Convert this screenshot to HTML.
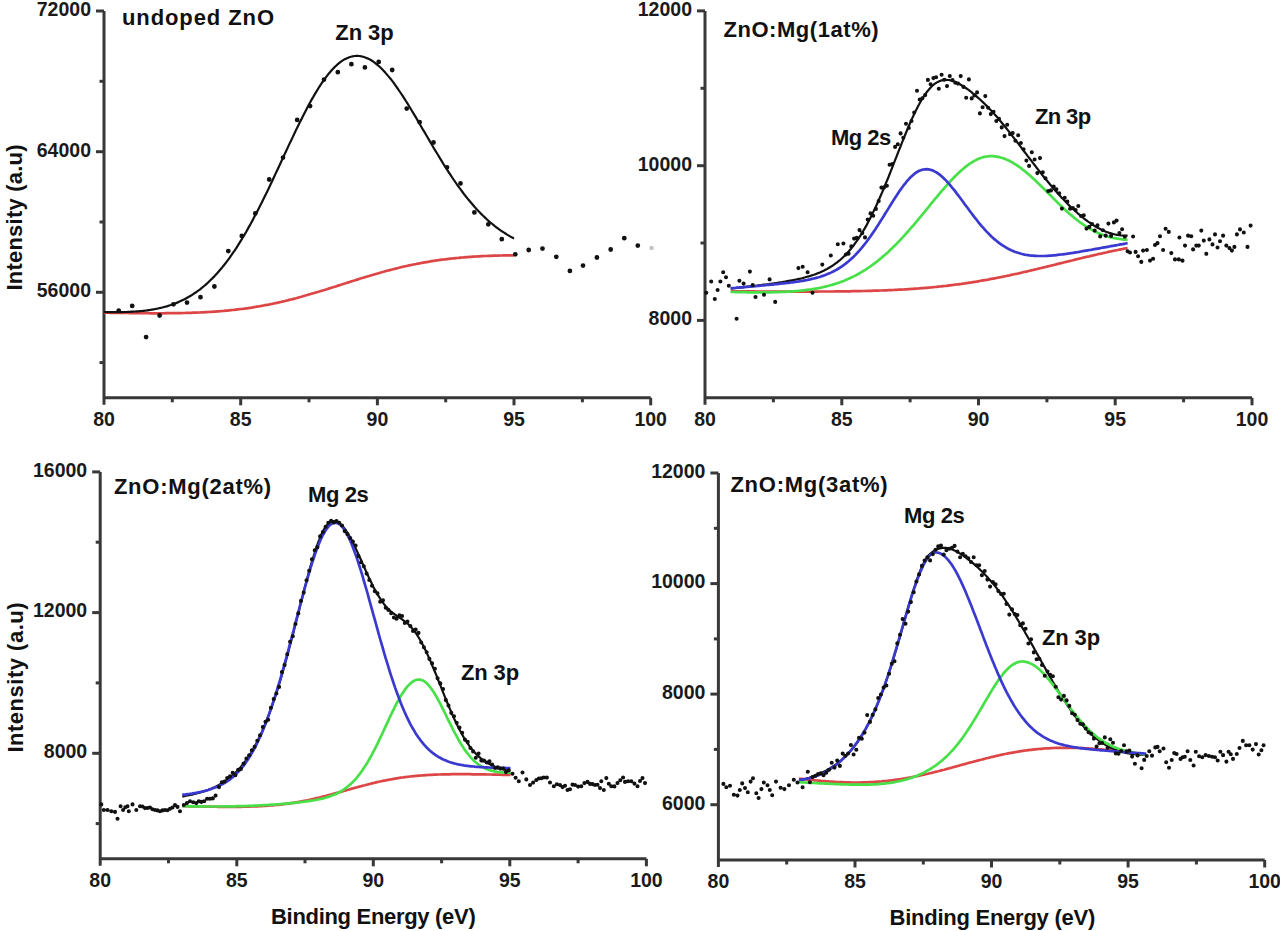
<!DOCTYPE html>
<html><head><meta charset="utf-8"><style>html,body{margin:0;padding:0;background:#fff}svg{display:block}</style></head>
<body><svg width="1280" height="931" viewBox="0 0 1280 931">
<rect width="1280" height="931" fill="#fff"/>
<path d="M104.0,11.0 V404.8 M102.7,397.8 H650.7" stroke="#383838" stroke-width="3.0" fill="none"/>
<path d="M96.0,292.3 H104.0" stroke="#383838" stroke-width="3.0"/>
<text x="91.0" y="297.1" font-family="Liberation Sans, sans-serif" font-weight="bold" font-size="19.5" text-anchor="end" fill="#1a1a1a">56000</text>
<path d="M96.0,151.7 H104.0" stroke="#383838" stroke-width="3.0"/>
<text x="91.0" y="156.5" font-family="Liberation Sans, sans-serif" font-weight="bold" font-size="19.5" text-anchor="end" fill="#1a1a1a">64000</text>
<path d="M96.0,11.0 H104.0" stroke="#383838" stroke-width="3.0"/>
<text x="91.0" y="15.8" font-family="Liberation Sans, sans-serif" font-weight="bold" font-size="19.5" text-anchor="end" fill="#1a1a1a">72000</text>
<path d="M99.5,362.6 H104.0" stroke="#383838" stroke-width="3.0"/>
<path d="M99.5,222.0 H104.0" stroke="#383838" stroke-width="3.0"/>
<path d="M99.5,81.3 H104.0" stroke="#383838" stroke-width="3.0"/>
<path d="M240.7,397.8 V405.3" stroke="#383838" stroke-width="3.0"/>
<path d="M377.4,397.8 V405.3" stroke="#383838" stroke-width="3.0"/>
<path d="M514.0,397.8 V405.3" stroke="#383838" stroke-width="3.0"/>
<path d="M650.7,397.8 V405.3" stroke="#383838" stroke-width="3.0"/>
<path d="M172.3,397.8 V402.3" stroke="#383838" stroke-width="3.0"/>
<path d="M309.0,397.8 V402.3" stroke="#383838" stroke-width="3.0"/>
<path d="M445.7,397.8 V402.3" stroke="#383838" stroke-width="3.0"/>
<path d="M582.4,397.8 V402.3" stroke="#383838" stroke-width="3.0"/>
<text x="104.0" y="425.8" font-family="Liberation Sans, sans-serif" font-weight="bold" font-size="19.5" text-anchor="middle" fill="#1a1a1a">80</text>
<text x="240.7" y="425.8" font-family="Liberation Sans, sans-serif" font-weight="bold" font-size="19.5" text-anchor="middle" fill="#1a1a1a">85</text>
<text x="377.4" y="425.8" font-family="Liberation Sans, sans-serif" font-weight="bold" font-size="19.5" text-anchor="middle" fill="#1a1a1a">90</text>
<text x="514.0" y="425.8" font-family="Liberation Sans, sans-serif" font-weight="bold" font-size="19.5" text-anchor="middle" fill="#1a1a1a">95</text>
<text x="650.7" y="425.8" font-family="Liberation Sans, sans-serif" font-weight="bold" font-size="19.5" text-anchor="middle" fill="#1a1a1a">100</text>
<polyline points="104.0,312.6 105.7,312.7 107.4,312.7 109.1,312.7 110.9,312.8 112.6,312.8 114.3,312.8 116.0,312.9 117.7,312.9 119.4,312.9 121.2,312.9 122.9,313.0 124.6,313.0 126.3,313.0 128.0,313.0 129.7,313.1 131.4,313.1 133.2,313.1 134.9,313.1 136.6,313.1 138.3,313.2 140.0,313.2 141.7,313.2 143.5,313.2 145.2,313.2 146.9,313.2 148.6,313.2 150.3,313.3 152.0,313.3 153.7,313.3 155.5,313.3 157.2,313.3 158.9,313.3 160.6,313.3 162.3,313.3 164.0,313.3 165.7,313.2 167.5,313.2 169.2,313.2 170.9,313.2 172.6,313.2 174.3,313.2 176.0,313.1 177.8,313.1 179.5,313.1 181.2,313.1 182.9,313.0 184.6,313.0 186.3,312.9 188.0,312.9 189.8,312.8 191.5,312.8 193.2,312.7 194.9,312.7 196.6,312.6 198.3,312.5 200.1,312.5 201.8,312.4 203.5,312.3 205.2,312.2 206.9,312.1 208.6,312.0 210.3,311.9 212.1,311.8 213.8,311.7 215.5,311.6 217.2,311.4 218.9,311.3 220.6,311.2 222.4,311.0 224.1,310.9 225.8,310.7 227.5,310.6 229.2,310.4 230.9,310.2 232.6,310.0 234.4,309.8 236.1,309.6 237.8,309.4 239.5,309.2 241.2,309.0 242.9,308.8 244.7,308.6 246.4,308.3 248.1,308.1 249.8,307.8 251.5,307.6 253.2,307.3 254.9,307.0 256.7,306.7 258.4,306.5 260.1,306.2 261.8,305.9 263.5,305.5 265.2,305.2 267.0,304.9 268.7,304.6 270.4,304.2 272.1,303.9 273.8,303.5 275.5,303.1 277.2,302.8 279.0,302.4 280.7,302.0 282.4,301.6 284.1,301.2 285.8,300.8 287.5,300.4 289.2,299.9 291.0,299.5 292.7,299.1 294.4,298.6 296.1,298.2 297.8,297.7 299.5,297.2 301.3,296.8 303.0,296.3 304.7,295.8 306.4,295.3 308.1,294.8 309.8,294.3 311.5,293.8 313.3,293.3 315.0,292.8 316.7,292.3 318.4,291.8 320.1,291.3 321.8,290.7 323.6,290.2 325.3,289.7 327.0,289.2 328.7,288.6 330.4,288.1 332.1,287.5 333.8,287.0 335.6,286.5 337.3,285.9 339.0,285.4 340.7,284.8 342.4,284.3 344.1,283.7 345.9,283.2 347.6,282.6 349.3,282.1 351.0,281.5 352.7,281.0 354.4,280.5 356.1,279.9 357.9,279.4 359.6,278.8 361.3,278.3 363.0,277.8 364.7,277.3 366.4,276.7 368.2,276.2 369.9,275.7 371.6,275.2 373.3,274.7 375.0,274.2 376.7,273.7 378.4,273.2 380.2,272.7 381.9,272.2 383.6,271.8 385.3,271.3 387.0,270.8 388.7,270.4 390.5,269.9 392.2,269.5 393.9,269.0 395.6,268.6 397.3,268.2 399.0,267.8 400.7,267.3 402.5,266.9 404.2,266.5 405.9,266.2 407.6,265.8 409.3,265.4 411.0,265.0 412.7,264.7 414.5,264.3 416.2,264.0 417.9,263.6 419.6,263.3 421.3,263.0 423.0,262.7 424.8,262.4 426.5,262.1 428.2,261.8 429.9,261.5 431.6,261.2 433.3,260.9 435.0,260.7 436.8,260.4 438.5,260.2 440.2,259.9 441.9,259.7 443.6,259.5 445.3,259.3 447.1,259.1 448.8,258.9 450.5,258.7 452.2,258.5 453.9,258.3 455.6,258.1 457.3,258.0 459.1,257.8 460.8,257.6 462.5,257.5 464.2,257.3 465.9,257.2 467.6,257.1 469.4,256.9 471.1,256.8 472.8,256.7 474.5,256.6 476.2,256.5 477.9,256.4 479.6,256.3 481.4,256.2 483.1,256.1 484.8,256.0 486.5,256.0 488.2,255.9 489.9,255.8 491.7,255.8 493.4,255.7 495.1,255.7 496.8,255.6 498.5,255.6 500.2,255.5 501.9,255.5 503.7,255.4 505.4,255.4 507.1,255.4 508.8,255.3 510.5,255.3 512.2,255.3 514.0,255.3" fill="none" stroke="#dc4646" stroke-width="2.7" stroke-linejoin="round"/>
<polyline points="104.0,312.0 105.7,312.0 107.4,312.1 109.1,312.1 110.9,312.1 112.6,312.1 114.3,312.1 116.0,312.1 117.7,312.1 119.4,312.1 121.2,312.1 122.9,312.1 124.6,312.0 126.3,312.0 128.0,311.9 129.7,311.8 131.4,311.7 133.2,311.7 134.9,311.5 136.6,311.4 138.3,311.3 140.0,311.1 141.7,311.0 143.5,310.8 145.2,310.6 146.9,310.4 148.6,310.1 150.3,309.9 152.0,309.6 153.7,309.3 155.5,309.0 157.2,308.7 158.9,308.3 160.6,307.9 162.3,307.5 164.0,307.0 165.7,306.6 167.5,306.1 169.2,305.5 170.9,305.0 172.6,304.4 174.3,303.7 176.0,303.1 177.8,302.4 179.5,301.6 181.2,300.8 182.9,300.0 184.6,299.2 186.3,298.2 188.0,297.3 189.8,296.3 191.5,295.3 193.2,294.2 194.9,293.0 196.6,291.8 198.3,290.6 200.1,289.3 201.8,287.9 203.5,286.5 205.2,285.1 206.9,283.6 208.6,282.0 210.3,280.3 212.1,278.6 213.8,276.9 215.5,275.1 217.2,273.2 218.9,271.3 220.6,269.2 222.4,267.2 224.1,265.0 225.8,262.8 227.5,260.6 229.2,258.3 230.9,255.9 232.6,253.4 234.4,250.9 236.1,248.3 237.8,245.6 239.5,242.9 241.2,240.2 242.9,237.3 244.7,234.4 246.4,231.5 248.1,228.4 249.8,225.4 251.5,222.2 253.2,219.1 254.9,215.8 256.7,212.5 258.4,209.2 260.1,205.8 261.8,202.4 263.5,199.0 265.2,195.5 267.0,191.9 268.7,188.4 270.4,184.8 272.1,181.2 273.8,177.5 275.5,173.9 277.2,170.2 279.0,166.5 280.7,162.8 282.4,159.1 284.1,155.4 285.8,151.7 287.5,148.1 289.2,144.4 291.0,140.7 292.7,137.1 294.4,133.5 296.1,129.9 297.8,126.4 299.5,122.9 301.3,119.4 303.0,116.0 304.7,112.7 306.4,109.4 308.1,106.1 309.8,103.0 311.5,99.9 313.3,96.9 315.0,93.9 316.7,91.1 318.4,88.3 320.1,85.6 321.8,83.0 323.6,80.5 325.3,78.2 327.0,75.9 328.7,73.7 330.4,71.7 332.1,69.7 333.8,67.9 335.6,66.2 337.3,64.6 339.0,63.2 340.7,61.9 342.4,60.7 344.1,59.6 345.9,58.7 347.6,57.9 349.3,57.2 351.0,56.7 352.7,56.3 354.4,56.0 356.1,55.9 357.9,55.9 359.6,56.0 361.3,56.3 363.0,56.7 364.7,57.2 366.4,57.9 368.2,58.6 369.9,59.5 371.6,60.5 373.3,61.7 375.0,62.9 376.7,64.3 378.4,65.7 380.2,67.3 381.9,69.0 383.6,70.7 385.3,72.6 387.0,74.6 388.7,76.6 390.5,78.7 392.2,80.9 393.9,83.2 395.6,85.6 397.3,88.0 399.0,90.5 400.7,93.0 402.5,95.6 404.2,98.3 405.9,101.0 407.6,103.7 409.3,106.5 411.0,109.3 412.7,112.2 414.5,115.1 416.2,117.9 417.9,120.9 419.6,123.8 421.3,126.7 423.0,129.7 424.8,132.6 426.5,135.5 428.2,138.5 429.9,141.4 431.6,144.3 433.3,147.2 435.0,150.1 436.8,153.0 438.5,155.8 440.2,158.6 441.9,161.4 443.6,164.2 445.3,166.9 447.1,169.6 448.8,172.3 450.5,174.9 452.2,177.5 453.9,180.0 455.6,182.5 457.3,185.0 459.1,187.4 460.8,189.7 462.5,192.0 464.2,194.3 465.9,196.5 467.6,198.6 469.4,200.8 471.1,202.8 472.8,204.8 474.5,206.8 476.2,208.7 477.9,210.5 479.6,212.3 481.4,214.1 483.1,215.8 484.8,217.4 486.5,219.0 488.2,220.6 489.9,222.1 491.7,223.5 493.4,224.9 495.1,226.3 496.8,227.6 498.5,228.9 500.2,230.1 501.9,231.3 503.7,232.4 505.4,233.5 507.1,234.6 508.8,235.6 510.5,236.6 512.2,237.5 514.0,238.4" fill="none" stroke="#111" stroke-width="2.2" stroke-linejoin="round"/>
<path d="M705.0,10.9 V404.8 M703.7,397.8 H1252.0" stroke="#383838" stroke-width="3.0" fill="none"/>
<path d="M697.0,320.4 H705.0" stroke="#383838" stroke-width="3.0"/>
<text x="692.0" y="325.2" font-family="Liberation Sans, sans-serif" font-weight="bold" font-size="19.5" text-anchor="end" fill="#1a1a1a">8000</text>
<path d="M697.0,165.7 H705.0" stroke="#383838" stroke-width="3.0"/>
<text x="692.0" y="170.5" font-family="Liberation Sans, sans-serif" font-weight="bold" font-size="19.5" text-anchor="end" fill="#1a1a1a">10000</text>
<path d="M697.0,10.9 H705.0" stroke="#383838" stroke-width="3.0"/>
<text x="692.0" y="15.7" font-family="Liberation Sans, sans-serif" font-weight="bold" font-size="19.5" text-anchor="end" fill="#1a1a1a">12000</text>
<path d="M700.5,243.0 H705.0" stroke="#383838" stroke-width="3.0"/>
<path d="M700.5,88.3 H705.0" stroke="#383838" stroke-width="3.0"/>
<path d="M841.8,397.8 V405.3" stroke="#383838" stroke-width="3.0"/>
<path d="M978.5,397.8 V405.3" stroke="#383838" stroke-width="3.0"/>
<path d="M1115.2,397.8 V405.3" stroke="#383838" stroke-width="3.0"/>
<path d="M1252.0,397.8 V405.3" stroke="#383838" stroke-width="3.0"/>
<path d="M773.4,397.8 V402.3" stroke="#383838" stroke-width="3.0"/>
<path d="M910.1,397.8 V402.3" stroke="#383838" stroke-width="3.0"/>
<path d="M1046.9,397.8 V402.3" stroke="#383838" stroke-width="3.0"/>
<path d="M1183.6,397.8 V402.3" stroke="#383838" stroke-width="3.0"/>
<text x="705.0" y="425.8" font-family="Liberation Sans, sans-serif" font-weight="bold" font-size="19.5" text-anchor="middle" fill="#1a1a1a">80</text>
<text x="841.8" y="425.8" font-family="Liberation Sans, sans-serif" font-weight="bold" font-size="19.5" text-anchor="middle" fill="#1a1a1a">85</text>
<text x="978.5" y="425.8" font-family="Liberation Sans, sans-serif" font-weight="bold" font-size="19.5" text-anchor="middle" fill="#1a1a1a">90</text>
<text x="1115.2" y="425.8" font-family="Liberation Sans, sans-serif" font-weight="bold" font-size="19.5" text-anchor="middle" fill="#1a1a1a">95</text>
<text x="1252.0" y="425.8" font-family="Liberation Sans, sans-serif" font-weight="bold" font-size="19.5" text-anchor="middle" fill="#1a1a1a">100</text>
<polyline points="730.7,291.3 732.4,291.3 734.0,291.3 735.7,291.4 737.4,291.4 739.0,291.4 740.7,291.4 742.3,291.4 744.0,291.4 745.7,291.4 747.3,291.4 749.0,291.4 750.6,291.4 752.3,291.4 754.0,291.4 755.6,291.5 757.3,291.5 758.9,291.5 760.6,291.5 762.3,291.5 763.9,291.5 765.6,291.5 767.2,291.5 768.9,291.5 770.6,291.5 772.2,291.5 773.9,291.5 775.5,291.5 777.2,291.5 778.9,291.5 780.5,291.5 782.2,291.6 783.8,291.6 785.5,291.6 787.2,291.6 788.8,291.6 790.5,291.6 792.1,291.6 793.8,291.6 795.5,291.6 797.1,291.6 798.8,291.6 800.4,291.6 802.1,291.6 803.8,291.6 805.4,291.6 807.1,291.6 808.8,291.6 810.4,291.6 812.1,291.6 813.7,291.6 815.4,291.6 817.1,291.6 818.7,291.5 820.4,291.5 822.0,291.5 823.7,291.5 825.4,291.5 827.0,291.5 828.7,291.5 830.3,291.5 832.0,291.5 833.7,291.5 835.3,291.4 837.0,291.4 838.6,291.4 840.3,291.4 842.0,291.4 843.6,291.4 845.3,291.3 846.9,291.3 848.6,291.3 850.3,291.3 851.9,291.2 853.6,291.2 855.2,291.2 856.9,291.1 858.6,291.1 860.2,291.1 861.9,291.0 863.5,291.0 865.2,291.0 866.9,290.9 868.5,290.9 870.2,290.8 871.8,290.8 873.5,290.7 875.2,290.7 876.8,290.6 878.5,290.6 880.1,290.5 881.8,290.5 883.5,290.4 885.1,290.3 886.8,290.3 888.5,290.2 890.1,290.1 891.8,290.1 893.4,290.0 895.1,289.9 896.8,289.8 898.4,289.7 900.1,289.7 901.7,289.6 903.4,289.5 905.1,289.4 906.7,289.3 908.4,289.2 910.0,289.1 911.7,288.9 913.4,288.8 915.0,288.7 916.7,288.6 918.3,288.5 920.0,288.3 921.7,288.2 923.3,288.1 925.0,287.9 926.6,287.8 928.3,287.6 930.0,287.5 931.6,287.3 933.3,287.2 934.9,287.0 936.6,286.9 938.3,286.7 939.9,286.5 941.6,286.3 943.2,286.1 944.9,286.0 946.6,285.8 948.2,285.6 949.9,285.4 951.5,285.2 953.2,285.0 954.9,284.7 956.5,284.5 958.2,284.3 959.9,284.1 961.5,283.9 963.2,283.6 964.8,283.4 966.5,283.1 968.2,282.9 969.8,282.6 971.5,282.4 973.1,282.1 974.8,281.8 976.5,281.6 978.1,281.3 979.8,281.0 981.4,280.7 983.1,280.4 984.8,280.1 986.4,279.9 988.1,279.6 989.7,279.2 991.4,278.9 993.1,278.6 994.7,278.3 996.4,278.0 998.0,277.7 999.7,277.3 1001.4,277.0 1003.0,276.7 1004.7,276.3 1006.3,276.0 1008.0,275.6 1009.7,275.3 1011.3,274.9 1013.0,274.5 1014.6,274.2 1016.3,273.8 1018.0,273.5 1019.6,273.1 1021.3,272.7 1022.9,272.3 1024.6,271.9 1026.3,271.6 1027.9,271.2 1029.6,270.8 1031.3,270.4 1032.9,270.0 1034.6,269.6 1036.2,269.2 1037.9,268.8 1039.6,268.4 1041.2,268.0 1042.9,267.6 1044.5,267.2 1046.2,266.8 1047.9,266.4 1049.5,266.0 1051.2,265.6 1052.8,265.2 1054.5,264.8 1056.2,264.4 1057.8,263.9 1059.5,263.5 1061.1,263.1 1062.8,262.7 1064.5,262.3 1066.1,261.9 1067.8,261.5 1069.4,261.1 1071.1,260.7 1072.8,260.3 1074.4,259.9 1076.1,259.4 1077.7,259.0 1079.4,258.6 1081.1,258.2 1082.7,257.8 1084.4,257.4 1086.0,257.0 1087.7,256.6 1089.4,256.3 1091.0,255.9 1092.7,255.5 1094.3,255.1 1096.0,254.7 1097.7,254.3 1099.3,253.9 1101.0,253.6 1102.7,253.2 1104.3,252.8 1106.0,252.5 1107.6,252.1 1109.3,251.7 1111.0,251.4 1112.6,251.0 1114.3,250.7 1115.9,250.3 1117.6,250.0 1119.3,249.6 1120.9,249.3 1122.6,249.0 1124.2,248.6 1125.9,248.3 1127.6,248.0" fill="none" stroke="#dc4646" stroke-width="2.7" stroke-linejoin="round"/>
<polyline points="730.7,288.5 732.4,288.4 734.0,288.2 735.7,288.0 737.4,287.8 739.0,287.7 740.7,287.5 742.3,287.3 744.0,287.1 745.7,286.9 747.3,286.7 749.0,286.5 750.6,286.3 752.3,286.2 754.0,286.0 755.6,285.8 757.3,285.6 758.9,285.3 760.6,285.1 762.3,284.9 763.9,284.7 765.6,284.5 767.2,284.3 768.9,284.1 770.6,283.8 772.2,283.6 773.9,283.4 775.5,283.1 777.2,282.9 778.9,282.6 780.5,282.3 782.2,282.1 783.8,281.8 785.5,281.5 787.2,281.2 788.8,280.9 790.5,280.6 792.1,280.3 793.8,280.0 795.5,279.7 797.1,279.3 798.8,278.9 800.4,278.6 802.1,278.2 803.8,277.7 805.4,277.3 807.1,276.8 808.8,276.4 810.4,275.9 812.1,275.3 813.7,274.8 815.4,274.2 817.1,273.5 818.7,272.9 820.4,272.2 822.0,271.4 823.7,270.7 825.4,269.8 827.0,269.0 828.7,268.0 830.3,267.0 832.0,266.0 833.7,264.9 835.3,263.7 837.0,262.5 838.6,261.1 840.3,259.8 842.0,258.3 843.6,256.7 845.3,255.1 846.9,253.3 848.6,251.5 850.3,249.6 851.9,247.6 853.6,245.5 855.2,243.2 856.9,240.9 858.6,238.5 860.2,235.9 861.9,233.3 863.5,230.5 865.2,227.6 866.9,224.6 868.5,221.5 870.2,218.3 871.8,215.0 873.5,211.6 875.2,208.1 876.8,204.5 878.5,200.8 880.1,197.0 881.8,193.1 883.5,189.2 885.1,185.2 886.8,181.1 888.5,177.0 890.1,172.8 891.8,168.6 893.4,164.4 895.1,160.2 896.8,155.9 898.4,151.7 900.1,147.5 901.7,143.3 903.4,139.1 905.1,135.0 906.7,131.0 908.4,127.0 910.0,123.2 911.7,119.4 913.4,115.8 915.0,112.3 916.7,108.9 918.3,105.7 920.0,102.7 921.7,99.8 923.3,97.1 925.0,94.6 926.6,92.3 928.3,90.2 930.0,88.2 931.6,86.5 933.3,85.0 934.9,83.7 936.6,82.6 938.3,81.7 939.9,81.0 941.6,80.4 943.2,80.1 944.9,79.9 946.6,79.9 948.2,80.0 949.9,80.2 951.5,80.6 953.2,81.1 954.9,81.8 956.5,82.5 958.2,83.3 959.9,84.2 961.5,85.2 963.2,86.2 964.8,87.3 966.5,88.5 968.2,89.7 969.8,90.9 971.5,92.2 973.1,93.6 974.8,94.9 976.5,96.4 978.1,97.8 979.8,99.3 981.4,100.8 983.1,102.4 984.8,104.0 986.4,105.6 988.1,107.3 989.7,109.0 991.4,110.7 993.1,112.5 994.7,114.4 996.4,116.3 998.0,118.2 999.7,120.2 1001.4,122.2 1003.0,124.2 1004.7,126.3 1006.3,128.3 1008.0,130.4 1009.7,132.5 1011.3,134.6 1013.0,136.8 1014.6,138.9 1016.3,141.1 1018.0,143.2 1019.6,145.4 1021.3,147.6 1022.9,149.8 1024.6,152.0 1026.3,154.1 1027.9,156.3 1029.6,158.5 1031.3,160.7 1032.9,162.9 1034.6,165.0 1036.2,167.2 1037.9,169.3 1039.6,171.5 1041.2,173.6 1042.9,175.7 1044.5,177.7 1046.2,179.8 1047.9,181.8 1049.5,183.8 1051.2,185.8 1052.8,187.7 1054.5,189.7 1056.2,191.6 1057.8,193.4 1059.5,195.3 1061.1,197.1 1062.8,198.8 1064.5,200.6 1066.1,202.3 1067.8,204.0 1069.4,205.6 1071.1,207.2 1072.8,208.8 1074.4,210.3 1076.1,211.8 1077.7,213.3 1079.4,214.7 1081.1,216.1 1082.7,217.5 1084.4,218.8 1086.0,220.0 1087.7,221.3 1089.4,222.4 1091.0,223.6 1092.7,224.7 1094.3,225.7 1096.0,226.7 1097.7,227.7 1099.3,228.6 1101.0,229.4 1102.7,230.2 1104.3,231.0 1106.0,231.7 1107.6,232.3 1109.3,232.9 1111.0,233.4 1112.6,233.9 1114.3,234.3 1115.9,234.7 1117.6,235.0 1119.3,235.2 1120.9,235.4 1122.6,235.5 1124.2,235.6 1125.9,235.6 1127.6,235.6" fill="none" stroke="#111" stroke-width="2.2" stroke-linejoin="round"/>
<polyline points="730.7,292.0 732.4,292.0 734.0,292.0 735.7,292.1 737.4,292.1 739.0,292.1 740.7,292.2 742.3,292.2 744.0,292.2 745.7,292.2 747.3,292.3 749.0,292.3 750.6,292.3 752.3,292.3 754.0,292.3 755.6,292.3 757.3,292.3 758.9,292.3 760.6,292.3 762.3,292.3 763.9,292.3 765.6,292.3 767.2,292.3 768.9,292.3 770.6,292.3 772.2,292.2 773.9,292.2 775.5,292.2 777.2,292.1 778.9,292.1 780.5,292.0 782.2,291.9 783.8,291.9 785.5,291.8 787.2,291.7 788.8,291.6 790.5,291.5 792.1,291.4 793.8,291.3 795.5,291.1 797.1,291.0 798.8,290.9 800.4,290.7 802.1,290.5 803.8,290.3 805.4,290.1 807.1,289.9 808.8,289.7 810.4,289.5 812.1,289.2 813.7,289.0 815.4,288.7 817.1,288.4 818.7,288.1 820.4,287.7 822.0,287.4 823.7,287.0 825.4,286.6 827.0,286.2 828.7,285.8 830.3,285.3 832.0,284.9 833.7,284.4 835.3,283.9 837.0,283.3 838.6,282.7 840.3,282.2 842.0,281.5 843.6,280.9 845.3,280.2 846.9,279.5 848.6,278.8 850.3,278.0 851.9,277.3 853.6,276.4 855.2,275.6 856.9,274.7 858.6,273.8 860.2,272.9 861.9,271.9 863.5,270.9 865.2,269.8 866.9,268.8 868.5,267.7 870.2,266.5 871.8,265.3 873.5,264.1 875.2,262.9 876.8,261.6 878.5,260.3 880.1,258.9 881.8,257.6 883.5,256.1 885.1,254.7 886.8,253.2 888.5,251.7 890.1,250.1 891.8,248.5 893.4,246.9 895.1,245.3 896.8,243.6 898.4,241.9 900.1,240.1 901.7,238.4 903.4,236.6 905.1,234.7 906.7,232.9 908.4,231.0 910.0,229.1 911.7,227.2 913.4,225.3 915.0,223.3 916.7,221.4 918.3,219.4 920.0,217.4 921.7,215.4 923.3,213.3 925.0,211.3 926.6,209.3 928.3,207.3 930.0,205.2 931.6,203.2 933.3,201.2 934.9,199.2 936.6,197.2 938.3,195.2 939.9,193.2 941.6,191.2 943.2,189.3 944.9,187.4 946.6,185.5 948.2,183.6 949.9,181.8 951.5,180.0 953.2,178.3 954.9,176.5 956.5,174.9 958.2,173.3 959.9,171.7 961.5,170.2 963.2,168.8 964.8,167.4 966.5,166.1 968.2,164.8 969.8,163.7 971.5,162.6 973.1,161.6 974.8,160.6 976.5,159.8 978.1,159.0 979.8,158.3 981.4,157.7 983.1,157.2 984.8,156.8 986.4,156.5 988.1,156.3 989.7,156.2 991.4,156.1 993.1,156.2 994.7,156.3 996.4,156.6 998.0,156.9 999.7,157.2 1001.4,157.7 1003.0,158.2 1004.7,158.8 1006.3,159.5 1008.0,160.2 1009.7,161.0 1011.3,161.9 1013.0,162.8 1014.6,163.8 1016.3,164.9 1018.0,166.0 1019.6,167.2 1021.3,168.4 1022.9,169.7 1024.6,171.0 1026.3,172.4 1027.9,173.8 1029.6,175.2 1031.3,176.7 1032.9,178.2 1034.6,179.7 1036.2,181.3 1037.9,182.9 1039.6,184.5 1041.2,186.2 1042.9,187.8 1044.5,189.5 1046.2,191.1 1047.9,192.8 1049.5,194.5 1051.2,196.1 1052.8,197.8 1054.5,199.5 1056.2,201.1 1057.8,202.8 1059.5,204.4 1061.1,206.0 1062.8,207.6 1064.5,209.1 1066.1,210.7 1067.8,212.2 1069.4,213.7 1071.1,215.1 1072.8,216.5 1074.4,217.9 1076.1,219.2 1077.7,220.5 1079.4,221.8 1081.1,223.0 1082.7,224.2 1084.4,225.3 1086.0,226.4 1087.7,227.5 1089.4,228.5 1091.0,229.4 1092.7,230.4 1094.3,231.2 1096.0,232.0 1097.7,232.8 1099.3,233.5 1101.0,234.2 1102.7,234.8 1104.3,235.4 1106.0,236.0 1107.6,236.5 1109.3,236.9 1111.0,237.4 1112.6,237.8 1114.3,238.1 1115.9,238.4 1117.6,238.7 1119.3,239.0 1120.9,239.2 1122.6,239.4 1124.2,239.6 1125.9,239.7 1127.6,239.9" fill="none" stroke="#48e048" stroke-width="2.7" stroke-linejoin="round"/>
<polyline points="730.7,288.3 732.4,288.1 734.0,288.0 735.7,287.9 737.4,287.7 739.0,287.6 740.7,287.4 742.3,287.3 744.0,287.1 745.7,287.0 747.3,286.9 749.0,286.7 750.6,286.6 752.3,286.4 754.0,286.3 755.6,286.1 757.3,286.0 758.9,285.8 760.6,285.7 762.3,285.5 763.9,285.4 765.6,285.2 767.2,285.0 768.9,284.9 770.6,284.7 772.2,284.6 773.9,284.4 775.5,284.2 777.2,284.1 778.9,283.9 780.5,283.7 782.2,283.5 783.8,283.3 785.5,283.1 787.2,283.0 788.8,282.8 790.5,282.5 792.1,282.3 793.8,282.1 795.5,281.9 797.1,281.6 798.8,281.4 800.4,281.1 802.1,280.9 803.8,280.6 805.4,280.3 807.1,280.0 808.8,279.6 810.4,279.3 812.1,278.9 813.7,278.5 815.4,278.1 817.1,277.6 818.7,277.2 820.4,276.7 822.0,276.1 823.7,275.6 825.4,274.9 827.0,274.3 828.7,273.6 830.3,272.9 832.0,272.1 833.7,271.3 835.3,270.4 837.0,269.5 838.6,268.5 840.3,267.4 842.0,266.3 843.6,265.2 845.3,263.9 846.9,262.6 848.6,261.3 850.3,259.8 851.9,258.3 853.6,256.7 855.2,255.1 856.9,253.3 858.6,251.5 860.2,249.6 861.9,247.7 863.5,245.6 865.2,243.5 866.9,241.3 868.5,239.1 870.2,236.8 871.8,234.4 873.5,232.0 875.2,229.5 876.8,227.0 878.5,224.4 880.1,221.8 881.8,219.1 883.5,216.5 885.1,213.8 886.8,211.1 888.5,208.4 890.1,205.7 891.8,203.1 893.4,200.4 895.1,197.8 896.8,195.3 898.4,192.8 900.1,190.3 901.7,188.0 903.4,185.7 905.1,183.6 906.7,181.5 908.4,179.6 910.0,177.8 911.7,176.2 913.4,174.7 915.0,173.4 916.7,172.2 918.3,171.3 920.0,170.5 921.7,169.9 923.3,169.5 925.0,169.3 926.6,169.2 928.3,169.4 930.0,169.7 931.6,170.1 933.3,170.8 934.9,171.6 936.6,172.5 938.3,173.6 939.9,174.9 941.6,176.3 943.2,177.8 944.9,179.4 946.6,181.1 948.2,182.9 949.9,184.8 951.5,186.8 953.2,188.8 954.9,190.9 956.5,193.1 958.2,195.3 959.9,197.5 961.5,199.7 963.2,202.0 964.8,204.3 966.5,206.5 968.2,208.8 969.8,211.0 971.5,213.3 973.1,215.4 974.8,217.6 976.5,219.7 978.1,221.8 979.8,223.8 981.4,225.8 983.1,227.7 984.8,229.6 986.4,231.4 988.1,233.1 989.7,234.8 991.4,236.4 993.1,237.9 994.7,239.4 996.4,240.8 998.0,242.1 999.7,243.4 1001.4,244.6 1003.0,245.7 1004.7,246.7 1006.3,247.7 1008.0,248.6 1009.7,249.5 1011.3,250.3 1013.0,251.0 1014.6,251.7 1016.3,252.3 1018.0,252.8 1019.6,253.3 1021.3,253.8 1022.9,254.2 1024.6,254.6 1026.3,254.9 1027.9,255.1 1029.6,255.4 1031.3,255.6 1032.9,255.7 1034.6,255.8 1036.2,255.9 1037.9,256.0 1039.6,256.0 1041.2,256.0 1042.9,256.0 1044.5,256.0 1046.2,255.9 1047.9,255.8 1049.5,255.7 1051.2,255.6 1052.8,255.4 1054.5,255.3 1056.2,255.1 1057.8,254.9 1059.5,254.7 1061.1,254.5 1062.8,254.3 1064.5,254.1 1066.1,253.9 1067.8,253.6 1069.4,253.4 1071.1,253.1 1072.8,252.9 1074.4,252.6 1076.1,252.3 1077.7,252.1 1079.4,251.8 1081.1,251.5 1082.7,251.2 1084.4,250.9 1086.0,250.6 1087.7,250.3 1089.4,250.0 1091.0,249.8 1092.7,249.5 1094.3,249.2 1096.0,248.9 1097.7,248.6 1099.3,248.3 1101.0,248.0 1102.7,247.7 1104.3,247.4 1106.0,247.1 1107.6,246.8 1109.3,246.5 1111.0,246.2 1112.6,245.9 1114.3,245.6 1115.9,245.3 1117.6,245.0 1119.3,244.7 1120.9,244.4 1122.6,244.1 1124.2,243.8 1125.9,243.5 1127.6,243.2" fill="none" stroke="#3a3ad0" stroke-width="2.7" stroke-linejoin="round"/>
<path d="M100.2,471.9 V865.8 M98.9,858.8 H646.4" stroke="#383838" stroke-width="3.0" fill="none"/>
<path d="M92.2,753.3 H100.2" stroke="#383838" stroke-width="3.0"/>
<text x="87.2" y="758.1" font-family="Liberation Sans, sans-serif" font-weight="bold" font-size="19.5" text-anchor="end" fill="#1a1a1a">8000</text>
<path d="M92.2,612.6 H100.2" stroke="#383838" stroke-width="3.0"/>
<text x="87.2" y="617.4" font-family="Liberation Sans, sans-serif" font-weight="bold" font-size="19.5" text-anchor="end" fill="#1a1a1a">12000</text>
<path d="M92.2,471.9 H100.2" stroke="#383838" stroke-width="3.0"/>
<text x="87.2" y="476.7" font-family="Liberation Sans, sans-serif" font-weight="bold" font-size="19.5" text-anchor="end" fill="#1a1a1a">16000</text>
<path d="M95.7,823.6 H100.2" stroke="#383838" stroke-width="3.0"/>
<path d="M95.7,682.9 H100.2" stroke="#383838" stroke-width="3.0"/>
<path d="M95.7,542.2 H100.2" stroke="#383838" stroke-width="3.0"/>
<path d="M236.8,858.8 V866.3" stroke="#383838" stroke-width="3.0"/>
<path d="M373.3,858.8 V866.3" stroke="#383838" stroke-width="3.0"/>
<path d="M509.8,858.8 V866.3" stroke="#383838" stroke-width="3.0"/>
<path d="M646.4,858.8 V866.3" stroke="#383838" stroke-width="3.0"/>
<path d="M168.5,858.8 V863.3" stroke="#383838" stroke-width="3.0"/>
<path d="M305.0,858.8 V863.3" stroke="#383838" stroke-width="3.0"/>
<path d="M441.6,858.8 V863.3" stroke="#383838" stroke-width="3.0"/>
<path d="M578.1,858.8 V863.3" stroke="#383838" stroke-width="3.0"/>
<text x="100.2" y="886.8" font-family="Liberation Sans, sans-serif" font-weight="bold" font-size="19.5" text-anchor="middle" fill="#1a1a1a">80</text>
<text x="236.8" y="886.8" font-family="Liberation Sans, sans-serif" font-weight="bold" font-size="19.5" text-anchor="middle" fill="#1a1a1a">85</text>
<text x="373.3" y="886.8" font-family="Liberation Sans, sans-serif" font-weight="bold" font-size="19.5" text-anchor="middle" fill="#1a1a1a">90</text>
<text x="509.8" y="886.8" font-family="Liberation Sans, sans-serif" font-weight="bold" font-size="19.5" text-anchor="middle" fill="#1a1a1a">95</text>
<text x="646.4" y="886.8" font-family="Liberation Sans, sans-serif" font-weight="bold" font-size="19.5" text-anchor="middle" fill="#1a1a1a">100</text>
<polyline points="182.2,806.1 183.5,806.1 184.9,806.2 186.3,806.2 187.7,806.2 189.0,806.3 190.4,806.3 191.8,806.3 193.2,806.3 194.5,806.4 195.9,806.4 197.3,806.4 198.6,806.4 200.0,806.5 201.4,806.5 202.8,806.5 204.1,806.6 205.5,806.6 206.9,806.6 208.3,806.6 209.6,806.6 211.0,806.7 212.4,806.7 213.8,806.7 215.1,806.7 216.5,806.7 217.9,806.8 219.3,806.8 220.6,806.8 222.0,806.8 223.4,806.8 224.8,806.8 226.1,806.8 227.5,806.8 228.9,806.8 230.3,806.8 231.6,806.8 233.0,806.8 234.4,806.8 235.7,806.8 237.1,806.8 238.5,806.8 239.9,806.8 241.2,806.8 242.6,806.7 244.0,806.7 245.4,806.7 246.7,806.7 248.1,806.6 249.5,806.6 250.9,806.5 252.2,806.5 253.6,806.4 255.0,806.4 256.4,806.3 257.7,806.3 259.1,806.2 260.5,806.1 261.9,806.1 263.2,806.0 264.6,805.9 266.0,805.8 267.3,805.7 268.7,805.6 270.1,805.5 271.5,805.4 272.8,805.3 274.2,805.2 275.6,805.0 277.0,804.9 278.3,804.8 279.7,804.6 281.1,804.5 282.5,804.3 283.8,804.1 285.2,804.0 286.6,803.8 288.0,803.6 289.3,803.4 290.7,803.2 292.1,803.0 293.5,802.8 294.8,802.6 296.2,802.3 297.6,802.1 299.0,801.9 300.3,801.6 301.7,801.4 303.1,801.1 304.4,800.8 305.8,800.5 307.2,800.3 308.6,800.0 309.9,799.7 311.3,799.4 312.7,799.1 314.1,798.8 315.4,798.4 316.8,798.1 318.2,797.8 319.6,797.5 320.9,797.1 322.3,796.8 323.7,796.4 325.1,796.1 326.4,795.7 327.8,795.4 329.2,795.0 330.6,794.6 331.9,794.3 333.3,793.9 334.7,793.5 336.0,793.1 337.4,792.7 338.8,792.4 340.2,792.0 341.5,791.6 342.9,791.2 344.3,790.8 345.7,790.4 347.0,790.0 348.4,789.7 349.8,789.3 351.2,788.9 352.5,788.5 353.9,788.1 355.3,787.7 356.7,787.4 358.0,787.0 359.4,786.6 360.8,786.2 362.2,785.9 363.5,785.5 364.9,785.2 366.3,784.8 367.7,784.5 369.0,784.1 370.4,783.8 371.8,783.4 373.1,783.1 374.5,782.8 375.9,782.4 377.3,782.1 378.6,781.8 380.0,781.5 381.4,781.2 382.8,780.9 384.1,780.6 385.5,780.4 386.9,780.1 388.3,779.8 389.6,779.6 391.0,779.3 392.4,779.1 393.8,778.8 395.1,778.6 396.5,778.4 397.9,778.2 399.3,777.9 400.6,777.7 402.0,777.5 403.4,777.4 404.7,777.2 406.1,777.0 407.5,776.8 408.9,776.7 410.2,776.5 411.6,776.3 413.0,776.2 414.4,776.1 415.7,775.9 417.1,775.8 418.5,775.7 419.9,775.6 421.2,775.5 422.6,775.4 424.0,775.3 425.4,775.2 426.7,775.1 428.1,775.0 429.5,774.9 430.9,774.8 432.2,774.8 433.6,774.7 435.0,774.7 436.4,774.6 437.7,774.5 439.1,774.5 440.5,774.5 441.8,774.4 443.2,774.4 444.6,774.3 446.0,774.3 447.3,774.3 448.7,774.3 450.1,774.3 451.5,774.2 452.8,774.2 454.2,774.2 455.6,774.2 457.0,774.2 458.3,774.2 459.7,774.2 461.1,774.2 462.5,774.2 463.8,774.2 465.2,774.2 466.6,774.2 468.0,774.2 469.3,774.2 470.7,774.2 472.1,774.3 473.4,774.3 474.8,774.3 476.2,774.3 477.6,774.3 478.9,774.3 480.3,774.4 481.7,774.4 483.1,774.4 484.4,774.4 485.8,774.4 487.2,774.5 488.6,774.5 489.9,774.5 491.3,774.5 492.7,774.6 494.1,774.6 495.4,774.6 496.8,774.7 498.2,774.7 499.6,774.7 500.9,774.7 502.3,774.8 503.7,774.8 505.1,774.8 506.4,774.9 507.8,774.9 509.2,774.9 510.5,775.0" fill="none" stroke="#dc4646" stroke-width="2.7" stroke-linejoin="round"/>
<polyline points="182.2,796.5 183.5,796.3 184.9,796.0 186.3,795.7 187.7,795.5 189.0,795.2 190.4,794.9 191.8,794.6 193.2,794.3 194.5,793.9 195.9,793.6 197.3,793.2 198.6,792.9 200.0,792.5 201.4,792.1 202.8,791.7 204.1,791.2 205.5,790.8 206.9,790.3 208.3,789.8 209.6,789.2 211.0,788.7 212.4,788.1 213.8,787.5 215.1,786.9 216.5,786.2 217.9,785.5 219.3,784.8 220.6,784.0 222.0,783.2 223.4,782.3 224.8,781.4 226.1,780.5 227.5,779.5 228.9,778.5 230.3,777.4 231.6,776.3 233.0,775.1 234.4,773.8 235.7,772.5 237.1,771.1 238.5,769.6 239.9,768.1 241.2,766.5 242.6,764.8 244.0,763.1 245.4,761.2 246.7,759.3 248.1,757.3 249.5,755.2 250.9,753.0 252.2,750.7 253.6,748.4 255.0,745.9 256.4,743.3 257.7,740.6 259.1,737.8 260.5,734.9 261.9,731.9 263.2,728.7 264.6,725.5 266.0,722.2 267.3,718.7 268.7,715.1 270.1,711.4 271.5,707.6 272.8,703.6 274.2,699.6 275.6,695.4 277.0,691.1 278.3,686.8 279.7,682.3 281.1,677.7 282.5,672.9 283.8,668.1 285.2,663.2 286.6,658.3 288.0,653.2 289.3,648.0 290.7,642.8 292.1,637.5 293.5,632.2 294.8,626.8 296.2,621.4 297.6,616.0 299.0,610.6 300.3,605.1 301.7,599.7 303.1,594.3 304.4,589.0 305.8,583.7 307.2,578.5 308.6,573.4 309.9,568.4 311.3,563.6 312.7,559.0 314.1,554.5 315.4,550.2 316.8,546.1 318.2,542.3 319.6,538.8 320.9,535.5 322.3,532.6 323.7,529.9 325.1,527.6 326.4,525.7 327.8,524.1 329.2,522.8 330.6,522.0 331.9,521.5 333.3,521.2 334.7,521.2 336.0,521.5 337.4,522.1 338.8,522.8 340.2,523.8 341.5,525.1 342.9,526.5 344.3,528.2 345.7,530.0 347.0,532.1 348.4,534.3 349.8,536.7 351.2,539.2 352.5,541.8 353.9,544.6 355.3,547.5 356.7,550.4 358.0,553.4 359.4,556.5 360.8,559.5 362.2,562.6 363.5,565.7 364.9,568.8 366.3,571.9 367.7,574.9 369.0,577.9 370.4,580.8 371.8,583.6 373.1,586.4 374.5,589.0 375.9,591.5 377.3,593.9 378.6,596.2 380.0,598.4 381.4,600.5 382.8,602.4 384.1,604.2 385.5,605.9 386.9,607.4 388.3,608.9 389.6,610.2 391.0,611.5 392.4,612.6 393.8,613.7 395.1,614.7 396.5,615.7 397.9,616.6 399.3,617.5 400.6,618.4 402.0,619.3 403.4,620.3 404.7,621.3 406.1,622.4 407.5,623.5 408.9,624.8 410.2,626.1 411.6,627.6 413.0,629.2 414.4,631.0 415.7,632.9 417.1,634.9 418.5,637.2 419.9,639.5 421.2,642.0 422.6,644.6 424.0,647.3 425.4,650.0 426.7,652.9 428.1,655.9 429.5,659.0 430.9,662.1 432.2,665.4 433.6,668.7 435.0,672.0 436.4,675.4 437.7,678.8 439.1,682.3 440.5,685.7 441.8,689.2 443.2,692.6 444.6,696.1 446.0,699.5 447.3,702.8 448.7,706.1 450.1,709.4 451.5,712.6 452.8,715.7 454.2,718.8 455.6,721.7 457.0,724.6 458.3,727.4 459.7,730.0 461.1,732.6 462.5,735.1 463.8,737.5 465.2,739.7 466.6,741.9 468.0,743.9 469.3,745.9 470.7,747.7 472.1,749.4 473.4,751.1 474.8,752.6 476.2,754.1 477.6,755.4 478.9,756.7 480.3,757.9 481.7,759.0 483.1,760.0 484.4,761.0 485.8,761.9 487.2,762.8 488.6,763.5 489.9,764.3 491.3,764.9 492.7,765.6 494.1,766.2 495.4,766.7 496.8,767.2 498.2,767.7 499.6,768.1 500.9,768.5 502.3,768.9 503.7,769.3 505.1,769.6 506.4,770.0 507.8,770.3 509.2,770.5 510.5,770.8" fill="none" stroke="#111" stroke-width="2.2" stroke-linejoin="round"/>
<polyline points="182.2,806.1 183.5,806.2 184.9,806.2 186.3,806.2 187.7,806.2 189.0,806.3 190.4,806.3 191.8,806.3 193.2,806.3 194.5,806.4 195.9,806.4 197.3,806.4 198.6,806.4 200.0,806.4 201.4,806.4 202.8,806.5 204.1,806.5 205.5,806.5 206.9,806.5 208.3,806.5 209.6,806.5 211.0,806.5 212.4,806.5 213.8,806.5 215.1,806.5 216.5,806.5 217.9,806.5 219.3,806.5 220.6,806.5 222.0,806.5 223.4,806.5 224.8,806.4 226.1,806.4 227.5,806.4 228.9,806.4 230.3,806.4 231.6,806.4 233.0,806.3 234.4,806.3 235.7,806.3 237.1,806.2 238.5,806.2 239.9,806.2 241.2,806.1 242.6,806.1 244.0,806.1 245.4,806.0 246.7,806.0 248.1,805.9 249.5,805.9 250.9,805.8 252.2,805.8 253.6,805.7 255.0,805.6 256.4,805.6 257.7,805.5 259.1,805.4 260.5,805.4 261.9,805.3 263.2,805.2 264.6,805.2 266.0,805.1 267.3,805.0 268.7,804.9 270.1,804.8 271.5,804.7 272.8,804.7 274.2,804.6 275.6,804.5 277.0,804.4 278.3,804.3 279.7,804.2 281.1,804.0 282.5,803.9 283.8,803.8 285.2,803.7 286.6,803.6 288.0,803.5 289.3,803.3 290.7,803.2 292.1,803.1 293.5,802.9 294.8,802.8 296.2,802.7 297.6,802.5 299.0,802.4 300.3,802.2 301.7,802.0 303.1,801.9 304.4,801.7 305.8,801.5 307.2,801.3 308.6,801.1 309.9,800.9 311.3,800.7 312.7,800.5 314.1,800.3 315.4,800.0 316.8,799.7 318.2,799.5 319.6,799.2 320.9,798.9 322.3,798.6 323.7,798.2 325.1,797.8 326.4,797.5 327.8,797.0 329.2,796.6 330.6,796.1 331.9,795.6 333.3,795.1 334.7,794.5 336.0,793.9 337.4,793.2 338.8,792.5 340.2,791.8 341.5,790.9 342.9,790.1 344.3,789.2 345.7,788.2 347.0,787.1 348.4,786.0 349.8,784.8 351.2,783.6 352.5,782.3 353.9,780.8 355.3,779.3 356.7,777.8 358.0,776.1 359.4,774.4 360.8,772.5 362.2,770.6 363.5,768.6 364.9,766.5 366.3,764.3 367.7,762.1 369.0,759.7 370.4,757.3 371.8,754.8 373.1,752.2 374.5,749.6 375.9,746.8 377.3,744.1 378.6,741.2 380.0,738.4 381.4,735.5 382.8,732.5 384.1,729.6 385.5,726.6 386.9,723.6 388.3,720.6 389.6,717.7 391.0,714.8 392.4,711.9 393.8,709.1 395.1,706.3 396.5,703.7 397.9,701.1 399.3,698.6 400.6,696.2 402.0,694.0 403.4,691.9 404.7,689.9 406.1,688.1 407.5,686.4 408.9,684.9 410.2,683.6 411.6,682.4 413.0,681.5 414.4,680.7 415.7,680.1 417.1,679.7 418.5,679.6 419.9,679.6 421.2,679.9 422.6,680.4 424.0,681.2 425.4,682.1 426.7,683.3 428.1,684.7 429.5,686.3 430.9,688.0 432.2,689.9 433.6,692.0 435.0,694.2 436.4,696.6 437.7,699.0 439.1,701.6 440.5,704.2 441.8,706.9 443.2,709.7 444.6,712.4 446.0,715.2 447.3,718.1 448.7,720.9 450.1,723.7 451.5,726.4 452.8,729.1 454.2,731.8 455.6,734.4 457.0,736.9 458.3,739.4 459.7,741.8 461.1,744.1 462.5,746.3 463.8,748.4 465.2,750.4 466.6,752.3 468.0,754.0 469.3,755.7 470.7,757.3 472.1,758.8 473.4,760.2 474.8,761.5 476.2,762.7 477.6,763.8 478.9,764.8 480.3,765.7 481.7,766.6 483.1,767.4 484.4,768.1 485.8,768.7 487.2,769.3 488.6,769.8 489.9,770.2 491.3,770.6 492.7,771.0 494.1,771.3 495.4,771.6 496.8,771.8 498.2,772.0 499.6,772.2 500.9,772.3 502.3,772.4 503.7,772.5 505.1,772.6 506.4,772.7 507.8,772.7 509.2,772.7 510.5,772.7" fill="none" stroke="#48e048" stroke-width="2.7" stroke-linejoin="round"/>
<polyline points="182.2,794.9 183.5,794.7 184.9,794.6 186.3,794.4 187.7,794.2 189.0,794.0 190.4,793.8 191.8,793.6 193.2,793.3 194.5,793.1 195.9,792.9 197.3,792.6 198.6,792.3 200.0,792.0 201.4,791.7 202.8,791.4 204.1,791.1 205.5,790.7 206.9,790.4 208.3,790.0 209.6,789.5 211.0,789.1 212.4,788.6 213.8,788.1 215.1,787.6 216.5,787.0 217.9,786.4 219.3,785.8 220.6,785.1 222.0,784.4 223.4,783.7 224.8,782.9 226.1,782.0 227.5,781.1 228.9,780.1 230.3,779.1 231.6,778.0 233.0,776.9 234.4,775.7 235.7,774.4 237.1,773.0 238.5,771.6 239.9,770.1 241.2,768.5 242.6,766.8 244.0,765.1 245.4,763.2 246.7,761.3 248.1,759.2 249.5,757.1 250.9,754.8 252.2,752.4 253.6,750.0 255.0,747.4 256.4,744.7 257.7,741.9 259.1,739.0 260.5,735.9 261.9,732.8 263.2,729.5 264.6,726.1 266.0,722.6 267.3,718.9 268.7,715.2 270.1,711.3 271.5,707.3 272.8,703.2 274.2,699.0 275.6,694.6 277.0,690.2 278.3,685.7 279.7,681.1 281.1,676.3 282.5,671.5 283.8,666.6 285.2,661.7 286.6,656.6 288.0,651.5 289.3,646.4 290.7,641.2 292.1,636.0 293.5,630.8 294.8,625.5 296.2,620.2 297.6,615.0 299.0,609.7 300.3,604.5 301.7,599.4 303.1,594.3 304.4,589.2 305.8,584.3 307.2,579.4 308.6,574.7 309.9,570.0 311.3,565.5 312.7,561.2 314.1,557.0 315.4,553.0 316.8,549.2 318.2,545.6 319.6,542.2 320.9,539.1 322.3,536.2 323.7,533.6 325.1,531.2 326.4,529.1 327.8,527.3 329.2,525.8 330.6,524.6 331.9,523.6 333.3,523.0 334.7,522.7 336.0,522.8 337.4,523.1 338.8,523.8 340.2,524.7 341.5,526.0 342.9,527.6 344.3,529.5 345.7,531.7 347.0,534.1 348.4,536.8 349.8,539.7 351.2,542.9 352.5,546.3 353.9,549.9 355.3,553.7 356.7,557.6 358.0,561.7 359.4,566.0 360.8,570.4 362.2,574.9 363.5,579.6 364.9,584.3 366.3,589.1 367.7,593.9 369.0,598.8 370.4,603.8 371.8,608.8 373.1,613.7 374.5,618.7 375.9,623.7 377.3,628.7 378.6,633.6 380.0,638.5 381.4,643.4 382.8,648.2 384.1,652.9 385.5,657.6 386.9,662.1 388.3,666.6 389.6,671.0 391.0,675.3 392.4,679.5 393.8,683.7 395.1,687.6 396.5,691.5 397.9,695.3 399.3,698.9 400.6,702.5 402.0,705.9 403.4,709.2 404.7,712.3 406.1,715.4 407.5,718.3 408.9,721.1 410.2,723.8 411.6,726.3 413.0,728.8 414.4,731.1 415.7,733.4 417.1,735.5 418.5,737.5 419.9,739.4 421.2,741.2 422.6,742.9 424.0,744.6 425.4,746.1 426.7,747.6 428.1,748.9 429.5,750.2 430.9,751.4 432.2,752.6 433.6,753.6 435.0,754.6 436.4,755.6 437.7,756.5 439.1,757.3 440.5,758.0 441.8,758.8 443.2,759.4 444.6,760.1 446.0,760.6 447.3,761.2 448.7,761.7 450.1,762.2 451.5,762.6 452.8,763.0 454.2,763.4 455.6,763.7 457.0,764.1 458.3,764.4 459.7,764.6 461.1,764.9 462.5,765.1 463.8,765.4 465.2,765.6 466.6,765.8 468.0,765.9 469.3,766.1 470.7,766.3 472.1,766.4 473.4,766.5 474.8,766.7 476.2,766.8 477.6,766.9 478.9,767.0 480.3,767.1 481.7,767.1 483.1,767.2 484.4,767.3 485.8,767.4 487.2,767.4 488.6,767.5 489.9,767.5 491.3,767.6 492.7,767.6 494.1,767.7 495.4,767.7 496.8,767.8 498.2,767.8 499.6,767.8 500.9,767.9 502.3,767.9 503.7,767.9 505.1,767.9 506.4,768.0 507.8,768.0 509.2,768.0 510.5,768.0" fill="none" stroke="#3a3ad0" stroke-width="2.7" stroke-linejoin="round"/>
<path d="M718.4,473.0 V867.0 M717.1,860.0 H1264.7" stroke="#383838" stroke-width="3.0" fill="none"/>
<path d="M710.4,804.7 H718.4" stroke="#383838" stroke-width="3.0"/>
<text x="705.4" y="809.5" font-family="Liberation Sans, sans-serif" font-weight="bold" font-size="19.5" text-anchor="end" fill="#1a1a1a">6000</text>
<path d="M710.4,694.1 H718.4" stroke="#383838" stroke-width="3.0"/>
<text x="705.4" y="698.9" font-family="Liberation Sans, sans-serif" font-weight="bold" font-size="19.5" text-anchor="end" fill="#1a1a1a">8000</text>
<path d="M710.4,583.6 H718.4" stroke="#383838" stroke-width="3.0"/>
<text x="705.4" y="588.4" font-family="Liberation Sans, sans-serif" font-weight="bold" font-size="19.5" text-anchor="end" fill="#1a1a1a">10000</text>
<path d="M710.4,473.0 H718.4" stroke="#383838" stroke-width="3.0"/>
<text x="705.4" y="477.8" font-family="Liberation Sans, sans-serif" font-weight="bold" font-size="19.5" text-anchor="end" fill="#1a1a1a">12000</text>
<path d="M713.9,749.4 H718.4" stroke="#383838" stroke-width="3.0"/>
<path d="M713.9,638.9 H718.4" stroke="#383838" stroke-width="3.0"/>
<path d="M713.9,528.3 H718.4" stroke="#383838" stroke-width="3.0"/>
<path d="M855.0,860.0 V867.5" stroke="#383838" stroke-width="3.0"/>
<path d="M991.5,860.0 V867.5" stroke="#383838" stroke-width="3.0"/>
<path d="M1128.1,860.0 V867.5" stroke="#383838" stroke-width="3.0"/>
<path d="M1264.7,860.0 V867.5" stroke="#383838" stroke-width="3.0"/>
<path d="M786.7,860.0 V864.5" stroke="#383838" stroke-width="3.0"/>
<path d="M923.3,860.0 V864.5" stroke="#383838" stroke-width="3.0"/>
<path d="M1059.8,860.0 V864.5" stroke="#383838" stroke-width="3.0"/>
<path d="M1196.4,860.0 V864.5" stroke="#383838" stroke-width="3.0"/>
<text x="718.4" y="888.0" font-family="Liberation Sans, sans-serif" font-weight="bold" font-size="19.5" text-anchor="middle" fill="#1a1a1a">80</text>
<text x="855.0" y="888.0" font-family="Liberation Sans, sans-serif" font-weight="bold" font-size="19.5" text-anchor="middle" fill="#1a1a1a">85</text>
<text x="991.5" y="888.0" font-family="Liberation Sans, sans-serif" font-weight="bold" font-size="19.5" text-anchor="middle" fill="#1a1a1a">90</text>
<text x="1128.1" y="888.0" font-family="Liberation Sans, sans-serif" font-weight="bold" font-size="19.5" text-anchor="middle" fill="#1a1a1a">95</text>
<text x="1264.7" y="888.0" font-family="Liberation Sans, sans-serif" font-weight="bold" font-size="19.5" text-anchor="middle" fill="#1a1a1a">100</text>
<polyline points="799.0,778.6 800.4,778.8 801.9,778.9 803.3,779.1 804.8,779.3 806.2,779.4 807.7,779.6 809.1,779.7 810.6,779.9 812.0,780.0 813.5,780.2 814.9,780.3 816.4,780.5 817.8,780.6 819.3,780.7 820.7,780.9 822.2,781.0 823.7,781.1 825.1,781.2 826.6,781.3 828.0,781.4 829.5,781.5 830.9,781.6 832.4,781.7 833.8,781.8 835.3,781.9 836.7,782.0 838.2,782.1 839.6,782.1 841.1,782.2 842.5,782.2 844.0,782.3 845.4,782.3 846.9,782.4 848.3,782.4 849.8,782.4 851.2,782.5 852.7,782.5 854.2,782.5 855.6,782.5 857.1,782.5 858.5,782.5 860.0,782.5 861.4,782.4 862.9,782.4 864.3,782.4 865.8,782.3 867.2,782.3 868.7,782.2 870.1,782.2 871.6,782.1 873.0,782.0 874.5,781.9 875.9,781.8 877.4,781.7 878.8,781.6 880.3,781.5 881.7,781.4 883.2,781.2 884.7,781.1 886.1,781.0 887.6,780.8 889.0,780.6 890.5,780.5 891.9,780.3 893.4,780.1 894.8,779.9 896.3,779.7 897.7,779.5 899.2,779.3 900.6,779.1 902.1,778.9 903.5,778.6 905.0,778.4 906.4,778.1 907.9,777.9 909.3,777.6 910.8,777.4 912.2,777.1 913.7,776.8 915.2,776.5 916.6,776.2 918.1,775.9 919.5,775.6 921.0,775.3 922.4,775.0 923.9,774.7 925.3,774.3 926.8,774.0 928.2,773.7 929.7,773.3 931.1,773.0 932.6,772.6 934.0,772.3 935.5,771.9 936.9,771.5 938.4,771.2 939.8,770.8 941.3,770.4 942.7,770.0 944.2,769.7 945.7,769.3 947.1,768.9 948.6,768.5 950.0,768.1 951.5,767.7 952.9,767.3 954.4,766.9 955.8,766.5 957.3,766.1 958.7,765.7 960.2,765.3 961.6,764.9 963.1,764.5 964.5,764.1 966.0,763.7 967.4,763.3 968.9,762.9 970.3,762.5 971.8,762.1 973.2,761.8 974.7,761.4 976.2,761.0 977.6,760.6 979.1,760.2 980.5,759.8 982.0,759.5 983.4,759.1 984.9,758.7 986.3,758.3 987.8,758.0 989.2,757.6 990.7,757.3 992.1,756.9 993.6,756.6 995.0,756.2 996.5,755.9 997.9,755.6 999.4,755.3 1000.8,754.9 1002.3,754.6 1003.7,754.3 1005.2,754.0 1006.6,753.7 1008.1,753.4 1009.6,753.2 1011.0,752.9 1012.5,752.6 1013.9,752.4 1015.4,752.1 1016.8,751.9 1018.3,751.6 1019.7,751.4 1021.2,751.2 1022.6,750.9 1024.1,750.7 1025.5,750.5 1027.0,750.3 1028.4,750.1 1029.9,749.9 1031.3,749.8 1032.8,749.6 1034.2,749.4 1035.7,749.3 1037.1,749.1 1038.6,749.0 1040.1,748.9 1041.5,748.8 1043.0,748.6 1044.4,748.5 1045.9,748.4 1047.3,748.3 1048.8,748.3 1050.2,748.2 1051.7,748.1 1053.1,748.0 1054.6,748.0 1056.0,747.9 1057.5,747.9 1058.9,747.8 1060.4,747.8 1061.8,747.8 1063.3,747.8 1064.7,747.8 1066.2,747.8 1067.6,747.8 1069.1,747.8 1070.6,747.8 1072.0,747.8 1073.5,747.8 1074.9,747.9 1076.4,747.9 1077.8,748.0 1079.3,748.0 1080.7,748.1 1082.2,748.1 1083.6,748.2 1085.1,748.3 1086.5,748.4 1088.0,748.4 1089.4,748.5 1090.9,748.6 1092.3,748.7 1093.8,748.8 1095.2,748.9 1096.7,749.0 1098.1,749.2 1099.6,749.3 1101.1,749.4 1102.5,749.5 1104.0,749.7 1105.4,749.8 1106.9,749.9 1108.3,750.1 1109.8,750.2 1111.2,750.4 1112.7,750.5 1114.1,750.7 1115.6,750.8 1117.0,751.0 1118.5,751.2 1119.9,751.3 1121.4,751.5 1122.8,751.7 1124.3,751.9 1125.7,752.0 1127.2,752.2 1128.6,752.4 1130.1,752.6 1131.6,752.8 1133.0,753.0 1134.5,753.2 1135.9,753.3 1137.4,753.5 1138.8,753.7 1140.3,753.9 1141.7,754.1 1143.2,754.3 1144.6,754.5 1146.1,754.7" fill="none" stroke="#dc4646" stroke-width="2.7" stroke-linejoin="round"/>
<polyline points="799.0,780.6 800.4,780.2 801.9,779.8 803.3,779.4 804.8,779.0 806.2,778.6 807.7,778.1 809.1,777.7 810.6,777.2 812.0,776.7 813.5,776.2 814.9,775.6 816.4,775.0 817.8,774.4 819.3,773.8 820.7,773.2 822.2,772.5 823.7,771.8 825.1,771.1 826.6,770.3 828.0,769.5 829.5,768.6 830.9,767.7 832.4,766.8 833.8,765.9 835.3,764.8 836.7,763.8 838.2,762.7 839.6,761.5 841.1,760.3 842.5,759.0 844.0,757.7 845.4,756.3 846.9,754.9 848.3,753.3 849.8,751.7 851.2,750.1 852.7,748.3 854.2,746.5 855.6,744.6 857.1,742.6 858.5,740.6 860.0,738.4 861.4,736.1 862.9,733.8 864.3,731.3 865.8,728.8 867.2,726.1 868.7,723.4 870.1,720.5 871.6,717.5 873.0,714.4 874.5,711.2 875.9,707.9 877.4,704.4 878.8,700.9 880.3,697.2 881.7,693.4 883.2,689.5 884.7,685.4 886.1,681.3 887.6,677.0 889.0,672.6 890.5,668.1 891.9,663.5 893.4,658.8 894.8,654.0 896.3,649.2 897.7,644.2 899.2,639.2 900.6,634.1 902.1,629.0 903.5,623.9 905.0,618.8 906.4,613.7 907.9,608.6 909.3,603.7 910.8,598.7 912.2,593.9 913.7,589.3 915.2,584.8 916.6,580.5 918.1,576.4 919.5,572.5 921.0,569.0 922.4,565.7 923.9,562.7 925.3,560.1 926.8,557.8 928.2,555.9 929.7,554.4 931.1,553.1 932.6,551.9 934.0,550.9 935.5,550.1 936.9,549.4 938.4,548.8 939.8,548.4 941.3,548.1 942.7,547.9 944.2,547.9 945.7,547.9 947.1,548.1 948.6,548.4 950.0,548.8 951.5,549.2 952.9,549.8 954.4,550.4 955.8,551.1 957.3,551.9 958.7,552.7 960.2,553.6 961.6,554.5 963.1,555.5 964.5,556.5 966.0,557.6 967.4,558.7 968.9,559.8 970.3,561.0 971.8,562.2 973.2,563.4 974.7,564.7 976.2,566.0 977.6,567.3 979.1,568.7 980.5,570.1 982.0,571.5 983.4,573.0 984.9,574.5 986.3,576.0 987.8,577.6 989.2,579.2 990.7,580.9 992.1,582.5 993.6,584.3 995.0,586.1 996.5,587.9 997.9,589.8 999.4,591.7 1000.8,593.7 1002.3,595.7 1003.7,597.8 1005.2,600.0 1006.6,602.2 1008.1,604.4 1009.6,606.6 1011.0,608.9 1012.5,611.2 1013.9,613.5 1015.4,615.9 1016.8,618.3 1018.3,620.7 1019.7,623.2 1021.2,625.6 1022.6,628.1 1024.1,630.6 1025.5,633.2 1027.0,635.7 1028.4,638.3 1029.9,640.8 1031.3,643.4 1032.8,646.0 1034.2,648.6 1035.7,651.2 1037.1,653.9 1038.6,656.5 1040.1,659.1 1041.5,661.7 1043.0,664.3 1044.4,666.9 1045.9,669.5 1047.3,672.1 1048.8,674.7 1050.2,677.2 1051.7,679.7 1053.1,682.2 1054.6,684.7 1056.0,687.2 1057.5,689.6 1058.9,692.0 1060.4,694.3 1061.8,696.7 1063.3,699.0 1064.7,701.2 1066.2,703.4 1067.6,705.6 1069.1,707.7 1070.6,709.8 1072.0,711.8 1073.5,713.8 1074.9,715.8 1076.4,717.7 1077.8,719.5 1079.3,721.3 1080.7,723.1 1082.2,724.7 1083.6,726.4 1085.1,728.0 1086.5,729.5 1088.0,731.0 1089.4,732.4 1090.9,733.8 1092.3,735.1 1093.8,736.4 1095.2,737.6 1096.7,738.8 1098.1,739.9 1099.6,741.0 1101.1,742.0 1102.5,743.0 1104.0,743.9 1105.4,744.8 1106.9,745.7 1108.3,746.4 1109.8,747.2 1111.2,747.9 1112.7,748.6 1114.1,749.2 1115.6,749.8 1117.0,750.3 1118.5,750.8 1119.9,751.3 1121.4,751.7 1122.8,752.1 1124.3,752.5 1125.7,752.8 1127.2,753.1 1128.6,753.4 1130.1,753.6 1131.6,753.8 1133.0,754.0 1134.5,754.2 1135.9,754.3 1137.4,754.4 1138.8,754.5 1140.3,754.6 1141.7,754.6 1143.2,754.7 1144.6,754.7 1146.1,754.7" fill="none" stroke="#111" stroke-width="2.2" stroke-linejoin="round"/>
<polyline points="799.0,782.2 800.4,782.2 801.9,782.3 803.3,782.4 804.8,782.5 806.2,782.6 807.7,782.6 809.1,782.7 810.6,782.8 812.0,782.9 813.5,783.0 814.9,783.0 816.4,783.1 817.8,783.2 819.3,783.3 820.7,783.4 822.2,783.4 823.7,783.5 825.1,783.6 826.6,783.7 828.0,783.7 829.5,783.8 830.9,783.9 832.4,783.9 833.8,784.0 835.3,784.1 836.7,784.1 838.2,784.2 839.6,784.2 841.1,784.3 842.5,784.4 844.0,784.4 845.4,784.5 846.9,784.5 848.3,784.5 849.8,784.6 851.2,784.6 852.7,784.6 854.2,784.7 855.6,784.7 857.1,784.7 858.5,784.7 860.0,784.7 861.4,784.7 862.9,784.7 864.3,784.7 865.8,784.7 867.2,784.6 868.7,784.6 870.1,784.6 871.6,784.5 873.0,784.4 874.5,784.4 875.9,784.3 877.4,784.2 878.8,784.1 880.3,784.0 881.7,783.8 883.2,783.7 884.7,783.6 886.1,783.4 887.6,783.2 889.0,783.0 890.5,782.8 891.9,782.6 893.4,782.3 894.8,782.1 896.3,781.8 897.7,781.5 899.2,781.2 900.6,780.9 902.1,780.5 903.5,780.2 905.0,779.8 906.4,779.4 907.9,778.9 909.3,778.5 910.8,778.0 912.2,777.5 913.7,777.0 915.2,776.5 916.6,775.9 918.1,775.3 919.5,774.6 921.0,774.0 922.4,773.3 923.9,772.6 925.3,771.8 926.8,771.0 928.2,770.2 929.7,769.4 931.1,768.5 932.6,767.5 934.0,766.6 935.5,765.6 936.9,764.5 938.4,763.4 939.8,762.3 941.3,761.1 942.7,759.9 944.2,758.6 945.7,757.2 947.1,755.9 948.6,754.4 950.0,752.9 951.5,751.4 952.9,749.8 954.4,748.1 955.8,746.4 957.3,744.6 958.7,742.8 960.2,740.9 961.6,739.0 963.1,737.0 964.5,734.9 966.0,732.8 967.4,730.7 968.9,728.5 970.3,726.2 971.8,723.9 973.2,721.6 974.7,719.2 976.2,716.8 977.6,714.4 979.1,711.9 980.5,709.5 982.0,707.0 983.4,704.5 984.9,702.0 986.3,699.6 987.8,697.1 989.2,694.7 990.7,692.3 992.1,689.9 993.6,687.6 995.0,685.3 996.5,683.1 997.9,680.9 999.4,678.9 1000.8,676.9 1002.3,675.0 1003.7,673.2 1005.2,671.5 1006.6,669.9 1008.1,668.5 1009.6,667.1 1011.0,665.9 1012.5,664.9 1013.9,664.0 1015.4,663.2 1016.8,662.5 1018.3,662.1 1019.7,661.7 1021.2,661.5 1022.6,661.5 1024.1,661.6 1025.5,661.8 1027.0,662.2 1028.4,662.6 1029.9,663.2 1031.3,663.9 1032.8,664.6 1034.2,665.5 1035.7,666.5 1037.1,667.6 1038.6,668.8 1040.1,670.1 1041.5,671.5 1043.0,673.0 1044.4,674.5 1045.9,676.1 1047.3,677.8 1048.8,679.5 1050.2,681.3 1051.7,683.1 1053.1,684.9 1054.6,686.8 1056.0,688.8 1057.5,690.7 1058.9,692.7 1060.4,694.7 1061.8,696.7 1063.3,698.7 1064.7,700.7 1066.2,702.7 1067.6,704.6 1069.1,706.6 1070.6,708.5 1072.0,710.4 1073.5,712.3 1074.9,714.2 1076.4,716.0 1077.8,717.8 1079.3,719.5 1080.7,721.2 1082.2,722.9 1083.6,724.5 1085.1,726.0 1086.5,727.5 1088.0,729.0 1089.4,730.4 1090.9,731.8 1092.3,733.1 1093.8,734.3 1095.2,735.5 1096.7,736.7 1098.1,737.8 1099.6,738.9 1101.1,739.9 1102.5,740.8 1104.0,741.8 1105.4,742.6 1106.9,743.5 1108.3,744.2 1109.8,745.0 1111.2,745.7 1112.7,746.4 1114.1,747.0 1115.6,747.6 1117.0,748.1 1118.5,748.7 1119.9,749.2 1121.4,749.6 1122.8,750.1 1124.3,750.5 1125.7,750.9 1127.2,751.2 1128.6,751.6 1130.1,751.9 1131.6,752.2 1133.0,752.5 1134.5,752.8 1135.9,753.0 1137.4,753.3 1138.8,753.5 1140.3,753.7 1141.7,753.9 1143.2,754.1 1144.6,754.3 1146.1,754.4" fill="none" stroke="#48e048" stroke-width="2.7" stroke-linejoin="round"/>
<polyline points="799.0,779.9 800.4,779.7 801.9,779.6 803.3,779.4 804.8,779.1 806.2,778.9 807.7,778.6 809.1,778.2 810.6,777.9 812.0,777.5 813.5,777.1 814.9,776.6 816.4,776.1 817.8,775.5 819.3,775.0 820.7,774.3 822.2,773.7 823.7,773.0 825.1,772.2 826.6,771.4 828.0,770.5 829.5,769.6 830.9,768.7 832.4,767.7 833.8,766.7 835.3,765.6 836.7,764.4 838.2,763.2 839.6,762.0 841.1,760.7 842.5,759.3 844.0,757.9 845.4,756.5 846.9,754.9 848.3,753.3 849.8,751.7 851.2,750.0 852.7,748.2 854.2,746.3 855.6,744.4 857.1,742.4 858.5,740.3 860.0,738.2 861.4,735.9 862.9,733.6 864.3,731.1 865.8,728.6 867.2,726.0 868.7,723.2 870.1,720.4 871.6,717.4 873.0,714.3 874.5,711.1 875.9,707.8 877.4,704.3 878.8,700.7 880.3,697.0 881.7,693.2 883.2,689.2 884.7,685.1 886.1,680.9 887.6,676.6 889.0,672.2 890.5,667.6 891.9,663.0 893.4,658.2 894.8,653.4 896.3,648.5 897.7,643.6 899.2,638.6 900.6,633.6 902.1,628.5 903.5,623.5 905.0,618.5 906.4,613.5 907.9,608.6 909.3,603.7 910.8,599.0 912.2,594.4 913.7,589.9 915.2,585.6 916.6,581.5 918.1,577.5 919.5,573.8 921.0,570.4 922.4,567.2 923.9,564.2 925.3,561.6 926.8,559.3 928.2,557.3 929.7,555.6 931.1,554.3 932.6,553.3 934.0,552.7 935.5,552.4 936.9,552.5 938.4,552.8 939.8,553.3 941.3,554.0 942.7,554.9 944.2,556.0 945.7,557.3 947.1,558.8 948.6,560.5 950.0,562.3 951.5,564.3 952.9,566.5 954.4,568.9 955.8,571.4 957.3,574.1 958.7,576.9 960.2,579.8 961.6,582.9 963.1,586.1 964.5,589.3 966.0,592.7 967.4,596.2 968.9,599.7 970.3,603.3 971.8,607.0 973.2,610.7 974.7,614.5 976.2,618.3 977.6,622.1 979.1,625.9 980.5,629.8 982.0,633.6 983.4,637.4 984.9,641.2 986.3,645.0 987.8,648.8 989.2,652.5 990.7,656.2 992.1,659.8 993.6,663.3 995.0,666.8 996.5,670.3 997.9,673.6 999.4,676.9 1000.8,680.2 1002.3,683.3 1003.7,686.3 1005.2,689.3 1006.6,692.2 1008.1,695.0 1009.6,697.7 1011.0,700.3 1012.5,702.8 1013.9,705.2 1015.4,707.6 1016.8,709.8 1018.3,712.0 1019.7,714.1 1021.2,716.0 1022.6,717.9 1024.1,719.7 1025.5,721.5 1027.0,723.1 1028.4,724.7 1029.9,726.2 1031.3,727.6 1032.8,729.0 1034.2,730.2 1035.7,731.4 1037.1,732.6 1038.6,733.7 1040.1,734.7 1041.5,735.7 1043.0,736.6 1044.4,737.4 1045.9,738.2 1047.3,739.0 1048.8,739.7 1050.2,740.4 1051.7,741.0 1053.1,741.6 1054.6,742.2 1056.0,742.7 1057.5,743.2 1058.9,743.7 1060.4,744.1 1061.8,744.5 1063.3,744.9 1064.7,745.3 1066.2,745.6 1067.6,745.9 1069.1,746.2 1070.6,746.5 1072.0,746.8 1073.5,747.1 1074.9,747.3 1076.4,747.5 1077.8,747.7 1079.3,748.0 1080.7,748.1 1082.2,748.3 1083.6,748.5 1085.1,748.7 1086.5,748.9 1088.0,749.0 1089.4,749.2 1090.9,749.3 1092.3,749.5 1093.8,749.6 1095.2,749.7 1096.7,749.9 1098.1,750.0 1099.6,750.1 1101.1,750.3 1102.5,750.4 1104.0,750.5 1105.4,750.6 1106.9,750.7 1108.3,750.8 1109.8,751.0 1111.2,751.1 1112.7,751.2 1114.1,751.3 1115.6,751.4 1117.0,751.5 1118.5,751.6 1119.9,751.7 1121.4,751.8 1122.8,751.9 1124.3,752.0 1125.7,752.1 1127.2,752.2 1128.6,752.4 1130.1,752.5 1131.6,752.6 1133.0,752.7 1134.5,752.8 1135.9,752.9 1137.4,753.0 1138.8,753.1 1140.3,753.2 1141.7,753.3 1143.2,753.4 1144.6,753.5 1146.1,753.6" fill="none" stroke="#3a3ad0" stroke-width="2.7" stroke-linejoin="round"/>
<text x="121.94" y="25.00" font-family="Liberation Sans, sans-serif" font-weight="bold" font-size="22.0" textLength="152.09" lengthAdjust="spacing" fill="#111">undoped ZnO</text>
<text x="335.26" y="40.10" font-family="Liberation Sans, sans-serif" font-weight="bold" font-size="22.0" textLength="58.41" lengthAdjust="spacing" fill="#111">Zn 3p</text>
<text x="723.45" y="36.50" font-family="Liberation Sans, sans-serif" font-weight="bold" font-size="22.0" textLength="155.19" lengthAdjust="spacing" fill="#111">ZnO:Mg(1at%)</text>
<text x="831.03" y="145.40" font-family="Liberation Sans, sans-serif" font-weight="bold" font-size="22.0" textLength="60.30" lengthAdjust="spacing" fill="#111">Mg 2s</text>
<text x="1035.03" y="124.30" font-family="Liberation Sans, sans-serif" font-weight="bold" font-size="22.0" textLength="56.13" lengthAdjust="spacing" fill="#111">Zn 3p</text>
<text x="113.94" y="494.30" font-family="Liberation Sans, sans-serif" font-weight="bold" font-size="22.0" textLength="157.21" lengthAdjust="spacing" fill="#111">ZnO:Mg(2at%)</text>
<text x="308.02" y="502.30" font-family="Liberation Sans, sans-serif" font-weight="bold" font-size="22.0" textLength="60.81" lengthAdjust="spacing" fill="#111">Mg 2s</text>
<text x="461.01" y="679.80" font-family="Liberation Sans, sans-serif" font-weight="bold" font-size="22.0" textLength="58.16" lengthAdjust="spacing" fill="#111">Zn 3p</text>
<text x="730.44" y="492.10" font-family="Liberation Sans, sans-serif" font-weight="bold" font-size="22.0" textLength="157.21" lengthAdjust="spacing" fill="#111">ZnO:Mg(3at%)</text>
<text x="904.03" y="523.40" font-family="Liberation Sans, sans-serif" font-weight="bold" font-size="22.0" textLength="60.78" lengthAdjust="spacing" fill="#111">Mg 2s</text>
<text x="1042.01" y="644.80" font-family="Liberation Sans, sans-serif" font-weight="bold" font-size="22.0" textLength="58.15" lengthAdjust="spacing" fill="#111">Zn 3p</text>
<text x="271.03" y="924.45" font-family="Liberation Sans, sans-serif" font-weight="bold" font-size="22.0" textLength="204.69" lengthAdjust="spacing" fill="#111">Binding Energy (eV)</text>
<text x="889.53" y="925.30" font-family="Liberation Sans, sans-serif" font-weight="bold" font-size="22.0" textLength="205.69" lengthAdjust="spacing" fill="#111">Binding Energy (eV)</text>
<text transform="translate(21.60,290.51) rotate(-90)" font-family="Liberation Sans, sans-serif" font-weight="bold" font-size="22.0" textLength="146.04" lengthAdjust="spacing" fill="#111">Intensity (a.u)</text>
<text transform="translate(22.70,752.54) rotate(-90)" font-family="Liberation Sans, sans-serif" font-weight="bold" font-size="22.0" textLength="150.10" lengthAdjust="spacing" fill="#111">Intensity (a.u)</text>
<path d="M118.7,310.7m-2.4,0a2.4,2.4 0 1,0 4.8,0a2.4,2.4 0 1,0 -4.8,0M132.2,305.9m-2.4,0a2.4,2.4 0 1,0 4.8,0a2.4,2.4 0 1,0 -4.8,0M146.1,337.1m-2.4,0a2.4,2.4 0 1,0 4.8,0a2.4,2.4 0 1,0 -4.8,0M159.6,315.5m-2.4,0a2.4,2.4 0 1,0 4.8,0a2.4,2.4 0 1,0 -4.8,0M173.5,304.3m-2.4,0a2.4,2.4 0 1,0 4.8,0a2.4,2.4 0 1,0 -4.8,0M187.0,302.6m-2.4,0a2.4,2.4 0 1,0 4.8,0a2.4,2.4 0 1,0 -4.8,0M200.5,297.2m-2.4,0a2.4,2.4 0 1,0 4.8,0a2.4,2.4 0 1,0 -4.8,0M214.4,286.5m-2.4,0a2.4,2.4 0 1,0 4.8,0a2.4,2.4 0 1,0 -4.8,0M228.3,251.1m-2.4,0a2.4,2.4 0 1,0 4.8,0a2.4,2.4 0 1,0 -4.8,0M241.8,235.9m-2.4,0a2.4,2.4 0 1,0 4.8,0a2.4,2.4 0 1,0 -4.8,0M255.3,213.4m-2.4,0a2.4,2.4 0 1,0 4.8,0a2.4,2.4 0 1,0 -4.8,0M269.2,179.5m-2.4,0a2.4,2.4 0 1,0 4.8,0a2.4,2.4 0 1,0 -4.8,0M283.0,157.6m-2.4,0a2.4,2.4 0 1,0 4.8,0a2.4,2.4 0 1,0 -4.8,0M297.2,119.9m-2.4,0a2.4,2.4 0 1,0 4.8,0a2.4,2.4 0 1,0 -4.8,0M310.1,106.1m-2.4,0a2.4,2.4 0 1,0 4.8,0a2.4,2.4 0 1,0 -4.8,0M324.0,79.6m-2.4,0a2.4,2.4 0 1,0 4.8,0a2.4,2.4 0 1,0 -4.8,0M337.8,72.2m-2.4,0a2.4,2.4 0 1,0 4.8,0a2.4,2.4 0 1,0 -4.8,0M351.4,64.2m-2.4,0a2.4,2.4 0 1,0 4.8,0a2.4,2.4 0 1,0 -4.8,0M364.9,67.4m-2.4,0a2.4,2.4 0 1,0 4.8,0a2.4,2.4 0 1,0 -4.8,0M378.7,61.9m-2.4,0a2.4,2.4 0 1,0 4.8,0a2.4,2.4 0 1,0 -4.8,0M392.2,70.0m-2.4,0a2.4,2.4 0 1,0 4.8,0a2.4,2.4 0 1,0 -4.8,0M406.7,108.6m-2.4,0a2.4,2.4 0 1,0 4.8,0a2.4,2.4 0 1,0 -4.8,0M419.6,122.2m-2.4,0a2.4,2.4 0 1,0 4.8,0a2.4,2.4 0 1,0 -4.8,0M433.5,142.5m-2.4,0a2.4,2.4 0 1,0 4.8,0a2.4,2.4 0 1,0 -4.8,0M447.0,167.3m-2.4,0a2.4,2.4 0 1,0 4.8,0a2.4,2.4 0 1,0 -4.8,0M460.5,183.4m-2.4,0a2.4,2.4 0 1,0 4.8,0a2.4,2.4 0 1,0 -4.8,0M474.4,212.4m-2.4,0a2.4,2.4 0 1,0 4.8,0a2.4,2.4 0 1,0 -4.8,0M488.3,224.3m-2.4,0a2.4,2.4 0 1,0 4.8,0a2.4,2.4 0 1,0 -4.8,0M501.8,239.2m-2.4,0a2.4,2.4 0 1,0 4.8,0a2.4,2.4 0 1,0 -4.8,0M515.3,254.3m-2.4,0a2.4,2.4 0 1,0 4.8,0a2.4,2.4 0 1,0 -4.8,0M528.7,250.0m-2.4,0a2.4,2.4 0 1,0 4.8,0a2.4,2.4 0 1,0 -4.8,0M542.5,248.6m-2.4,0a2.4,2.4 0 1,0 4.8,0a2.4,2.4 0 1,0 -4.8,0M556.3,256.8m-2.4,0a2.4,2.4 0 1,0 4.8,0a2.4,2.4 0 1,0 -4.8,0M569.9,270.9m-2.4,0a2.4,2.4 0 1,0 4.8,0a2.4,2.4 0 1,0 -4.8,0M583.0,265.6m-2.4,0a2.4,2.4 0 1,0 4.8,0a2.4,2.4 0 1,0 -4.8,0M596.9,257.5m-2.4,0a2.4,2.4 0 1,0 4.8,0a2.4,2.4 0 1,0 -4.8,0M610.7,249.5m-2.4,0a2.4,2.4 0 1,0 4.8,0a2.4,2.4 0 1,0 -4.8,0M624.3,238.2m-2.4,0a2.4,2.4 0 1,0 4.8,0a2.4,2.4 0 1,0 -4.8,0M637.8,245.6m-2.4,0a2.4,2.4 0 1,0 4.8,0a2.4,2.4 0 1,0 -4.8,0" fill="#111"/>
<circle cx="651.6" cy="247.9" r="2.2" fill="#111" opacity="0.25"/>
<path d="M706.3,292.7m-2.05,0a2.05,2.05 0 1,0 4.1,0a2.05,2.05 0 1,0 -4.1,0M711.2,281.5m-2.05,0a2.05,2.05 0 1,0 4.1,0a2.05,2.05 0 1,0 -4.1,0M714.8,299.0m-2.05,0a2.05,2.05 0 1,0 4.1,0a2.05,2.05 0 1,0 -4.1,0M717.6,290.0m-2.05,0a2.05,2.05 0 1,0 4.1,0a2.05,2.05 0 1,0 -4.1,0M720.4,281.5m-2.05,0a2.05,2.05 0 1,0 4.1,0a2.05,2.05 0 1,0 -4.1,0M723.2,272.3m-2.05,0a2.05,2.05 0 1,0 4.1,0a2.05,2.05 0 1,0 -4.1,0M726.0,277.3m-2.05,0a2.05,2.05 0 1,0 4.1,0a2.05,2.05 0 1,0 -4.1,0M728.8,285.7m-2.05,0a2.05,2.05 0 1,0 4.1,0a2.05,2.05 0 1,0 -4.1,0M736.6,318.8m-2.05,0a2.05,2.05 0 1,0 4.1,0a2.05,2.05 0 1,0 -4.1,0M739.4,280.8m-2.05,0a2.05,2.05 0 1,0 4.1,0a2.05,2.05 0 1,0 -4.1,0M743.6,283.6m-2.05,0a2.05,2.05 0 1,0 4.1,0a2.05,2.05 0 1,0 -4.1,0M749.9,271.6m-2.05,0a2.05,2.05 0 1,0 4.1,0a2.05,2.05 0 1,0 -4.1,0M752.7,285.0m-2.05,0a2.05,2.05 0 1,0 4.1,0a2.05,2.05 0 1,0 -4.1,0M755.5,297.0m-2.05,0a2.05,2.05 0 1,0 4.1,0a2.05,2.05 0 1,0 -4.1,0M764.0,294.8m-2.05,0a2.05,2.05 0 1,0 4.1,0a2.05,2.05 0 1,0 -4.1,0M769.6,279.4m-2.05,0a2.05,2.05 0 1,0 4.1,0a2.05,2.05 0 1,0 -4.1,0M775.2,301.9m-2.05,0a2.05,2.05 0 1,0 4.1,0a2.05,2.05 0 1,0 -4.1,0M798.4,268.1m-2.05,0a2.05,2.05 0 1,0 4.1,0a2.05,2.05 0 1,0 -4.1,0M802.7,266.7m-2.05,0a2.05,2.05 0 1,0 4.1,0a2.05,2.05 0 1,0 -4.1,0M807.6,272.3m-2.05,0a2.05,2.05 0 1,0 4.1,0a2.05,2.05 0 1,0 -4.1,0M812.5,292.7m-2.05,0a2.05,2.05 0 1,0 4.1,0a2.05,2.05 0 1,0 -4.1,0M822.3,264.6m-2.05,0a2.05,2.05 0 1,0 4.1,0a2.05,2.05 0 1,0 -4.1,0M830.8,255.5m-2.05,0a2.05,2.05 0 1,0 4.1,0a2.05,2.05 0 1,0 -4.1,0M837.8,244.2m-2.05,0a2.05,2.05 0 1,0 4.1,0a2.05,2.05 0 1,0 -4.1,0M843.4,243.5m-2.05,0a2.05,2.05 0 1,0 4.1,0a2.05,2.05 0 1,0 -4.1,0M1133.1,236.5m-2.05,0a2.05,2.05 0 1,0 4.1,0a2.05,2.05 0 1,0 -4.1,0M1130.0,252.5m-2.05,0a2.05,2.05 0 1,0 4.1,0a2.05,2.05 0 1,0 -4.1,0M1135.6,251.9m-2.05,0a2.05,2.05 0 1,0 4.1,0a2.05,2.05 0 1,0 -4.1,0M1138.1,256.3m-2.05,0a2.05,2.05 0 1,0 4.1,0a2.05,2.05 0 1,0 -4.1,0M1141.3,261.9m-2.05,0a2.05,2.05 0 1,0 4.1,0a2.05,2.05 0 1,0 -4.1,0M1143.1,250.6m-2.05,0a2.05,2.05 0 1,0 4.1,0a2.05,2.05 0 1,0 -4.1,0M1146.9,250.0m-2.05,0a2.05,2.05 0 1,0 4.1,0a2.05,2.05 0 1,0 -4.1,0M1150.0,260.6m-2.05,0a2.05,2.05 0 1,0 4.1,0a2.05,2.05 0 1,0 -4.1,0M1153.1,258.8m-2.05,0a2.05,2.05 0 1,0 4.1,0a2.05,2.05 0 1,0 -4.1,0M1155.0,245.0m-2.05,0a2.05,2.05 0 1,0 4.1,0a2.05,2.05 0 1,0 -4.1,0M1157.5,243.1m-2.05,0a2.05,2.05 0 1,0 4.1,0a2.05,2.05 0 1,0 -4.1,0M1160.0,236.3m-2.05,0a2.05,2.05 0 1,0 4.1,0a2.05,2.05 0 1,0 -4.1,0M1163.1,250.0m-2.05,0a2.05,2.05 0 1,0 4.1,0a2.05,2.05 0 1,0 -4.1,0M1165.6,228.8m-2.05,0a2.05,2.05 0 1,0 4.1,0a2.05,2.05 0 1,0 -4.1,0M1168.8,231.9m-2.05,0a2.05,2.05 0 1,0 4.1,0a2.05,2.05 0 1,0 -4.1,0M1171.3,253.1m-2.05,0a2.05,2.05 0 1,0 4.1,0a2.05,2.05 0 1,0 -4.1,0M1175.0,259.4m-2.05,0a2.05,2.05 0 1,0 4.1,0a2.05,2.05 0 1,0 -4.1,0M1178.8,259.4m-2.05,0a2.05,2.05 0 1,0 4.1,0a2.05,2.05 0 1,0 -4.1,0M1179.4,237.5m-2.05,0a2.05,2.05 0 1,0 4.1,0a2.05,2.05 0 1,0 -4.1,0M1182.5,260.6m-2.05,0a2.05,2.05 0 1,0 4.1,0a2.05,2.05 0 1,0 -4.1,0M1185.0,245.6m-2.05,0a2.05,2.05 0 1,0 4.1,0a2.05,2.05 0 1,0 -4.1,0M1188.1,235.6m-2.05,0a2.05,2.05 0 1,0 4.1,0a2.05,2.05 0 1,0 -4.1,0M1191.3,236.3m-2.05,0a2.05,2.05 0 1,0 4.1,0a2.05,2.05 0 1,0 -4.1,0M1193.1,249.4m-2.05,0a2.05,2.05 0 1,0 4.1,0a2.05,2.05 0 1,0 -4.1,0M1196.3,245.6m-2.05,0a2.05,2.05 0 1,0 4.1,0a2.05,2.05 0 1,0 -4.1,0M1198.8,245.6m-2.05,0a2.05,2.05 0 1,0 4.1,0a2.05,2.05 0 1,0 -4.1,0M1201.3,230.6m-2.05,0a2.05,2.05 0 1,0 4.1,0a2.05,2.05 0 1,0 -4.1,0M1203.8,240.6m-2.05,0a2.05,2.05 0 1,0 4.1,0a2.05,2.05 0 1,0 -4.1,0M1206.3,253.8m-2.05,0a2.05,2.05 0 1,0 4.1,0a2.05,2.05 0 1,0 -4.1,0M1209.4,239.4m-2.05,0a2.05,2.05 0 1,0 4.1,0a2.05,2.05 0 1,0 -4.1,0M1212.5,244.4m-2.05,0a2.05,2.05 0 1,0 4.1,0a2.05,2.05 0 1,0 -4.1,0M1215.0,234.4m-2.05,0a2.05,2.05 0 1,0 4.1,0a2.05,2.05 0 1,0 -4.1,0M1217.5,247.5m-2.05,0a2.05,2.05 0 1,0 4.1,0a2.05,2.05 0 1,0 -4.1,0M1220.0,241.3m-2.05,0a2.05,2.05 0 1,0 4.1,0a2.05,2.05 0 1,0 -4.1,0M1223.1,235.6m-2.05,0a2.05,2.05 0 1,0 4.1,0a2.05,2.05 0 1,0 -4.1,0M1226.3,245.6m-2.05,0a2.05,2.05 0 1,0 4.1,0a2.05,2.05 0 1,0 -4.1,0M1229.4,248.1m-2.05,0a2.05,2.05 0 1,0 4.1,0a2.05,2.05 0 1,0 -4.1,0M1231.9,250.6m-2.05,0a2.05,2.05 0 1,0 4.1,0a2.05,2.05 0 1,0 -4.1,0M1234.4,246.9m-2.05,0a2.05,2.05 0 1,0 4.1,0a2.05,2.05 0 1,0 -4.1,0M1236.9,234.4m-2.05,0a2.05,2.05 0 1,0 4.1,0a2.05,2.05 0 1,0 -4.1,0M1240.0,229.4m-2.05,0a2.05,2.05 0 1,0 4.1,0a2.05,2.05 0 1,0 -4.1,0M1243.8,232.5m-2.05,0a2.05,2.05 0 1,0 4.1,0a2.05,2.05 0 1,0 -4.1,0M1247.5,246.9m-2.05,0a2.05,2.05 0 1,0 4.1,0a2.05,2.05 0 1,0 -4.1,0M1250.6,225.6m-2.05,0a2.05,2.05 0 1,0 4.1,0a2.05,2.05 0 1,0 -4.1,0M845.9,254.5m-2.05,0a2.05,2.05 0 1,0 4.1,0a2.05,2.05 0 1,0 -4.1,0M848.6,253.6m-2.05,0a2.05,2.05 0 1,0 4.1,0a2.05,2.05 0 1,0 -4.1,0M851.3,246.4m-2.05,0a2.05,2.05 0 1,0 4.1,0a2.05,2.05 0 1,0 -4.1,0M854.1,238.6m-2.05,0a2.05,2.05 0 1,0 4.1,0a2.05,2.05 0 1,0 -4.1,0M856.8,237.9m-2.05,0a2.05,2.05 0 1,0 4.1,0a2.05,2.05 0 1,0 -4.1,0M859.5,230.1m-2.05,0a2.05,2.05 0 1,0 4.1,0a2.05,2.05 0 1,0 -4.1,0M862.3,233.1m-2.05,0a2.05,2.05 0 1,0 4.1,0a2.05,2.05 0 1,0 -4.1,0M865.0,237.4m-2.05,0a2.05,2.05 0 1,0 4.1,0a2.05,2.05 0 1,0 -4.1,0M867.7,219.6m-2.05,0a2.05,2.05 0 1,0 4.1,0a2.05,2.05 0 1,0 -4.1,0M870.5,213.4m-2.05,0a2.05,2.05 0 1,0 4.1,0a2.05,2.05 0 1,0 -4.1,0M873.2,215.7m-2.05,0a2.05,2.05 0 1,0 4.1,0a2.05,2.05 0 1,0 -4.1,0M875.9,208.9m-2.05,0a2.05,2.05 0 1,0 4.1,0a2.05,2.05 0 1,0 -4.1,0M878.7,201.1m-2.05,0a2.05,2.05 0 1,0 4.1,0a2.05,2.05 0 1,0 -4.1,0M881.4,187.6m-2.05,0a2.05,2.05 0 1,0 4.1,0a2.05,2.05 0 1,0 -4.1,0M884.1,187.4m-2.05,0a2.05,2.05 0 1,0 4.1,0a2.05,2.05 0 1,0 -4.1,0M886.9,185.8m-2.05,0a2.05,2.05 0 1,0 4.1,0a2.05,2.05 0 1,0 -4.1,0M889.6,164.7m-2.05,0a2.05,2.05 0 1,0 4.1,0a2.05,2.05 0 1,0 -4.1,0M892.3,164.0m-2.05,0a2.05,2.05 0 1,0 4.1,0a2.05,2.05 0 1,0 -4.1,0M895.1,146.9m-2.05,0a2.05,2.05 0 1,0 4.1,0a2.05,2.05 0 1,0 -4.1,0M897.8,144.2m-2.05,0a2.05,2.05 0 1,0 4.1,0a2.05,2.05 0 1,0 -4.1,0M900.6,133.4m-2.05,0a2.05,2.05 0 1,0 4.1,0a2.05,2.05 0 1,0 -4.1,0M903.3,137.7m-2.05,0a2.05,2.05 0 1,0 4.1,0a2.05,2.05 0 1,0 -4.1,0M906.0,123.8m-2.05,0a2.05,2.05 0 1,0 4.1,0a2.05,2.05 0 1,0 -4.1,0M908.8,128.0m-2.05,0a2.05,2.05 0 1,0 4.1,0a2.05,2.05 0 1,0 -4.1,0M911.5,121.0m-2.05,0a2.05,2.05 0 1,0 4.1,0a2.05,2.05 0 1,0 -4.1,0M914.2,112.6m-2.05,0a2.05,2.05 0 1,0 4.1,0a2.05,2.05 0 1,0 -4.1,0M917.0,90.8m-2.05,0a2.05,2.05 0 1,0 4.1,0a2.05,2.05 0 1,0 -4.1,0M919.7,99.5m-2.05,0a2.05,2.05 0 1,0 4.1,0a2.05,2.05 0 1,0 -4.1,0M922.4,98.2m-2.05,0a2.05,2.05 0 1,0 4.1,0a2.05,2.05 0 1,0 -4.1,0M925.2,95.1m-2.05,0a2.05,2.05 0 1,0 4.1,0a2.05,2.05 0 1,0 -4.1,0M927.9,79.9m-2.05,0a2.05,2.05 0 1,0 4.1,0a2.05,2.05 0 1,0 -4.1,0M930.6,84.2m-2.05,0a2.05,2.05 0 1,0 4.1,0a2.05,2.05 0 1,0 -4.1,0M933.4,78.1m-2.05,0a2.05,2.05 0 1,0 4.1,0a2.05,2.05 0 1,0 -4.1,0M936.1,77.2m-2.05,0a2.05,2.05 0 1,0 4.1,0a2.05,2.05 0 1,0 -4.1,0M938.8,88.8m-2.05,0a2.05,2.05 0 1,0 4.1,0a2.05,2.05 0 1,0 -4.1,0M941.6,74.8m-2.05,0a2.05,2.05 0 1,0 4.1,0a2.05,2.05 0 1,0 -4.1,0M944.3,79.7m-2.05,0a2.05,2.05 0 1,0 4.1,0a2.05,2.05 0 1,0 -4.1,0M947.0,86.1m-2.05,0a2.05,2.05 0 1,0 4.1,0a2.05,2.05 0 1,0 -4.1,0M949.8,76.1m-2.05,0a2.05,2.05 0 1,0 4.1,0a2.05,2.05 0 1,0 -4.1,0M952.5,80.1m-2.05,0a2.05,2.05 0 1,0 4.1,0a2.05,2.05 0 1,0 -4.1,0M955.3,82.7m-2.05,0a2.05,2.05 0 1,0 4.1,0a2.05,2.05 0 1,0 -4.1,0M958.0,83.6m-2.05,0a2.05,2.05 0 1,0 4.1,0a2.05,2.05 0 1,0 -4.1,0M960.7,76.1m-2.05,0a2.05,2.05 0 1,0 4.1,0a2.05,2.05 0 1,0 -4.1,0M963.5,86.9m-2.05,0a2.05,2.05 0 1,0 4.1,0a2.05,2.05 0 1,0 -4.1,0M966.2,97.8m-2.05,0a2.05,2.05 0 1,0 4.1,0a2.05,2.05 0 1,0 -4.1,0M968.9,79.4m-2.05,0a2.05,2.05 0 1,0 4.1,0a2.05,2.05 0 1,0 -4.1,0M971.7,98.4m-2.05,0a2.05,2.05 0 1,0 4.1,0a2.05,2.05 0 1,0 -4.1,0M974.4,95.4m-2.05,0a2.05,2.05 0 1,0 4.1,0a2.05,2.05 0 1,0 -4.1,0M977.1,92.4m-2.05,0a2.05,2.05 0 1,0 4.1,0a2.05,2.05 0 1,0 -4.1,0M979.9,113.4m-2.05,0a2.05,2.05 0 1,0 4.1,0a2.05,2.05 0 1,0 -4.1,0M982.6,107.2m-2.05,0a2.05,2.05 0 1,0 4.1,0a2.05,2.05 0 1,0 -4.1,0M985.3,96.1m-2.05,0a2.05,2.05 0 1,0 4.1,0a2.05,2.05 0 1,0 -4.1,0M988.1,107.8m-2.05,0a2.05,2.05 0 1,0 4.1,0a2.05,2.05 0 1,0 -4.1,0M990.8,114.1m-2.05,0a2.05,2.05 0 1,0 4.1,0a2.05,2.05 0 1,0 -4.1,0M993.5,111.8m-2.05,0a2.05,2.05 0 1,0 4.1,0a2.05,2.05 0 1,0 -4.1,0M996.3,121.0m-2.05,0a2.05,2.05 0 1,0 4.1,0a2.05,2.05 0 1,0 -4.1,0M999.0,118.9m-2.05,0a2.05,2.05 0 1,0 4.1,0a2.05,2.05 0 1,0 -4.1,0M1001.7,127.4m-2.05,0a2.05,2.05 0 1,0 4.1,0a2.05,2.05 0 1,0 -4.1,0M1004.5,136.1m-2.05,0a2.05,2.05 0 1,0 4.1,0a2.05,2.05 0 1,0 -4.1,0M1007.2,124.7m-2.05,0a2.05,2.05 0 1,0 4.1,0a2.05,2.05 0 1,0 -4.1,0M1010.0,134.3m-2.05,0a2.05,2.05 0 1,0 4.1,0a2.05,2.05 0 1,0 -4.1,0M1012.7,133.1m-2.05,0a2.05,2.05 0 1,0 4.1,0a2.05,2.05 0 1,0 -4.1,0M1015.4,140.8m-2.05,0a2.05,2.05 0 1,0 4.1,0a2.05,2.05 0 1,0 -4.1,0M1018.2,135.2m-2.05,0a2.05,2.05 0 1,0 4.1,0a2.05,2.05 0 1,0 -4.1,0M1020.9,143.0m-2.05,0a2.05,2.05 0 1,0 4.1,0a2.05,2.05 0 1,0 -4.1,0M1023.6,149.3m-2.05,0a2.05,2.05 0 1,0 4.1,0a2.05,2.05 0 1,0 -4.1,0M1026.4,160.6m-2.05,0a2.05,2.05 0 1,0 4.1,0a2.05,2.05 0 1,0 -4.1,0M1029.1,165.9m-2.05,0a2.05,2.05 0 1,0 4.1,0a2.05,2.05 0 1,0 -4.1,0M1031.8,152.2m-2.05,0a2.05,2.05 0 1,0 4.1,0a2.05,2.05 0 1,0 -4.1,0M1034.6,159.5m-2.05,0a2.05,2.05 0 1,0 4.1,0a2.05,2.05 0 1,0 -4.1,0M1037.3,173.1m-2.05,0a2.05,2.05 0 1,0 4.1,0a2.05,2.05 0 1,0 -4.1,0M1040.0,158.1m-2.05,0a2.05,2.05 0 1,0 4.1,0a2.05,2.05 0 1,0 -4.1,0M1042.8,172.3m-2.05,0a2.05,2.05 0 1,0 4.1,0a2.05,2.05 0 1,0 -4.1,0M1045.5,178.2m-2.05,0a2.05,2.05 0 1,0 4.1,0a2.05,2.05 0 1,0 -4.1,0M1048.2,191.1m-2.05,0a2.05,2.05 0 1,0 4.1,0a2.05,2.05 0 1,0 -4.1,0M1051.0,190.4m-2.05,0a2.05,2.05 0 1,0 4.1,0a2.05,2.05 0 1,0 -4.1,0M1053.7,186.5m-2.05,0a2.05,2.05 0 1,0 4.1,0a2.05,2.05 0 1,0 -4.1,0M1056.4,189.3m-2.05,0a2.05,2.05 0 1,0 4.1,0a2.05,2.05 0 1,0 -4.1,0M1059.2,193.2m-2.05,0a2.05,2.05 0 1,0 4.1,0a2.05,2.05 0 1,0 -4.1,0M1061.9,208.6m-2.05,0a2.05,2.05 0 1,0 4.1,0a2.05,2.05 0 1,0 -4.1,0M1064.7,197.8m-2.05,0a2.05,2.05 0 1,0 4.1,0a2.05,2.05 0 1,0 -4.1,0M1067.4,201.5m-2.05,0a2.05,2.05 0 1,0 4.1,0a2.05,2.05 0 1,0 -4.1,0M1070.1,208.8m-2.05,0a2.05,2.05 0 1,0 4.1,0a2.05,2.05 0 1,0 -4.1,0M1072.9,208.0m-2.05,0a2.05,2.05 0 1,0 4.1,0a2.05,2.05 0 1,0 -4.1,0M1075.6,210.0m-2.05,0a2.05,2.05 0 1,0 4.1,0a2.05,2.05 0 1,0 -4.1,0M1078.3,206.0m-2.05,0a2.05,2.05 0 1,0 4.1,0a2.05,2.05 0 1,0 -4.1,0M1081.1,216.0m-2.05,0a2.05,2.05 0 1,0 4.1,0a2.05,2.05 0 1,0 -4.1,0M1083.8,215.2m-2.05,0a2.05,2.05 0 1,0 4.1,0a2.05,2.05 0 1,0 -4.1,0M1086.5,228.6m-2.05,0a2.05,2.05 0 1,0 4.1,0a2.05,2.05 0 1,0 -4.1,0M1089.3,226.9m-2.05,0a2.05,2.05 0 1,0 4.1,0a2.05,2.05 0 1,0 -4.1,0M1092.0,224.1m-2.05,0a2.05,2.05 0 1,0 4.1,0a2.05,2.05 0 1,0 -4.1,0M1094.7,230.6m-2.05,0a2.05,2.05 0 1,0 4.1,0a2.05,2.05 0 1,0 -4.1,0M1097.5,225.2m-2.05,0a2.05,2.05 0 1,0 4.1,0a2.05,2.05 0 1,0 -4.1,0M1100.2,236.4m-2.05,0a2.05,2.05 0 1,0 4.1,0a2.05,2.05 0 1,0 -4.1,0M1102.9,230.3m-2.05,0a2.05,2.05 0 1,0 4.1,0a2.05,2.05 0 1,0 -4.1,0M1105.7,235.6m-2.05,0a2.05,2.05 0 1,0 4.1,0a2.05,2.05 0 1,0 -4.1,0M1108.4,223.6m-2.05,0a2.05,2.05 0 1,0 4.1,0a2.05,2.05 0 1,0 -4.1,0M1111.1,235.9m-2.05,0a2.05,2.05 0 1,0 4.1,0a2.05,2.05 0 1,0 -4.1,0M1113.9,222.4m-2.05,0a2.05,2.05 0 1,0 4.1,0a2.05,2.05 0 1,0 -4.1,0M1116.6,220.6m-2.05,0a2.05,2.05 0 1,0 4.1,0a2.05,2.05 0 1,0 -4.1,0M1119.4,233.1m-2.05,0a2.05,2.05 0 1,0 4.1,0a2.05,2.05 0 1,0 -4.1,0M1122.1,229.2m-2.05,0a2.05,2.05 0 1,0 4.1,0a2.05,2.05 0 1,0 -4.1,0M1124.8,236.8m-2.05,0a2.05,2.05 0 1,0 4.1,0a2.05,2.05 0 1,0 -4.1,0M1127.6,251.3m-2.05,0a2.05,2.05 0 1,0 4.1,0a2.05,2.05 0 1,0 -4.1,0" fill="#111"/>
<path d="M101.3,804.4m-2.05,0a2.05,2.05 0 1,0 4.1,0a2.05,2.05 0 1,0 -4.1,0M103.8,810.0m-2.05,0a2.05,2.05 0 1,0 4.1,0a2.05,2.05 0 1,0 -4.1,0M107.5,810.0m-2.05,0a2.05,2.05 0 1,0 4.1,0a2.05,2.05 0 1,0 -4.1,0M111.3,811.3m-2.05,0a2.05,2.05 0 1,0 4.1,0a2.05,2.05 0 1,0 -4.1,0M115.0,811.9m-2.05,0a2.05,2.05 0 1,0 4.1,0a2.05,2.05 0 1,0 -4.1,0M117.5,818.8m-2.05,0a2.05,2.05 0 1,0 4.1,0a2.05,2.05 0 1,0 -4.1,0M120.6,806.3m-2.05,0a2.05,2.05 0 1,0 4.1,0a2.05,2.05 0 1,0 -4.1,0M123.1,810.0m-2.05,0a2.05,2.05 0 1,0 4.1,0a2.05,2.05 0 1,0 -4.1,0M125.3,807.2m-2.05,0a2.05,2.05 0 1,0 4.1,0a2.05,2.05 0 1,0 -4.1,0M127.5,806.3m-2.05,0a2.05,2.05 0 1,0 4.1,0a2.05,2.05 0 1,0 -4.1,0M128.8,811.3m-2.05,0a2.05,2.05 0 1,0 4.1,0a2.05,2.05 0 1,0 -4.1,0M132.5,804.4m-2.05,0a2.05,2.05 0 1,0 4.1,0a2.05,2.05 0 1,0 -4.1,0M136.3,810.0m-2.05,0a2.05,2.05 0 1,0 4.1,0a2.05,2.05 0 1,0 -4.1,0M140.0,806.3m-2.05,0a2.05,2.05 0 1,0 4.1,0a2.05,2.05 0 1,0 -4.1,0M142.5,806.5m-2.05,0a2.05,2.05 0 1,0 4.1,0a2.05,2.05 0 1,0 -4.1,0M145.0,808.1m-2.05,0a2.05,2.05 0 1,0 4.1,0a2.05,2.05 0 1,0 -4.1,0M147.5,808.0m-2.05,0a2.05,2.05 0 1,0 4.1,0a2.05,2.05 0 1,0 -4.1,0M150.0,807.5m-2.05,0a2.05,2.05 0 1,0 4.1,0a2.05,2.05 0 1,0 -4.1,0M152.5,809.3m-2.05,0a2.05,2.05 0 1,0 4.1,0a2.05,2.05 0 1,0 -4.1,0M155.0,810.0m-2.05,0a2.05,2.05 0 1,0 4.1,0a2.05,2.05 0 1,0 -4.1,0M157.5,810.4m-2.05,0a2.05,2.05 0 1,0 4.1,0a2.05,2.05 0 1,0 -4.1,0M160.0,811.3m-2.05,0a2.05,2.05 0 1,0 4.1,0a2.05,2.05 0 1,0 -4.1,0M162.5,810.4m-2.05,0a2.05,2.05 0 1,0 4.1,0a2.05,2.05 0 1,0 -4.1,0M165.0,810.0m-2.05,0a2.05,2.05 0 1,0 4.1,0a2.05,2.05 0 1,0 -4.1,0M167.5,810.2m-2.05,0a2.05,2.05 0 1,0 4.1,0a2.05,2.05 0 1,0 -4.1,0M170.0,808.8m-2.05,0a2.05,2.05 0 1,0 4.1,0a2.05,2.05 0 1,0 -4.1,0M172.5,807.5m-2.05,0a2.05,2.05 0 1,0 4.1,0a2.05,2.05 0 1,0 -4.1,0M175.0,805.0m-2.05,0a2.05,2.05 0 1,0 4.1,0a2.05,2.05 0 1,0 -4.1,0M177.5,806.9m-2.05,0a2.05,2.05 0 1,0 4.1,0a2.05,2.05 0 1,0 -4.1,0M180.0,811.3m-2.05,0a2.05,2.05 0 1,0 4.1,0a2.05,2.05 0 1,0 -4.1,0M183.8,805.0m-2.05,0a2.05,2.05 0 1,0 4.1,0a2.05,2.05 0 1,0 -4.1,0M186.9,803.1m-2.05,0a2.05,2.05 0 1,0 4.1,0a2.05,2.05 0 1,0 -4.1,0M190.0,801.3m-2.05,0a2.05,2.05 0 1,0 4.1,0a2.05,2.05 0 1,0 -4.1,0M193.2,802.2m-2.05,0a2.05,2.05 0 1,0 4.1,0a2.05,2.05 0 1,0 -4.1,0M196.3,803.1m-2.05,0a2.05,2.05 0 1,0 4.1,0a2.05,2.05 0 1,0 -4.1,0M198.8,801.2m-2.05,0a2.05,2.05 0 1,0 4.1,0a2.05,2.05 0 1,0 -4.1,0M201.3,801.9m-2.05,0a2.05,2.05 0 1,0 4.1,0a2.05,2.05 0 1,0 -4.1,0M204.2,801.2m-2.05,0a2.05,2.05 0 1,0 4.1,0a2.05,2.05 0 1,0 -4.1,0M207.1,798.8m-2.05,0a2.05,2.05 0 1,0 4.1,0a2.05,2.05 0 1,0 -4.1,0M210.0,798.8m-2.05,0a2.05,2.05 0 1,0 4.1,0a2.05,2.05 0 1,0 -4.1,0M212.8,798.4m-2.05,0a2.05,2.05 0 1,0 4.1,0a2.05,2.05 0 1,0 -4.1,0M215.6,795.6m-2.05,0a2.05,2.05 0 1,0 4.1,0a2.05,2.05 0 1,0 -4.1,0M512.5,773.8m-2.05,0a2.05,2.05 0 1,0 4.1,0a2.05,2.05 0 1,0 -4.1,0M515.6,777.8m-2.05,0a2.05,2.05 0 1,0 4.1,0a2.05,2.05 0 1,0 -4.1,0M518.8,781.3m-2.05,0a2.05,2.05 0 1,0 4.1,0a2.05,2.05 0 1,0 -4.1,0M522.5,772.5m-2.05,0a2.05,2.05 0 1,0 4.1,0a2.05,2.05 0 1,0 -4.1,0M526.3,779.4m-2.05,0a2.05,2.05 0 1,0 4.1,0a2.05,2.05 0 1,0 -4.1,0M530.0,785.0m-2.05,0a2.05,2.05 0 1,0 4.1,0a2.05,2.05 0 1,0 -4.1,0M533.1,782.6m-2.05,0a2.05,2.05 0 1,0 4.1,0a2.05,2.05 0 1,0 -4.1,0M536.3,780.0m-2.05,0a2.05,2.05 0 1,0 4.1,0a2.05,2.05 0 1,0 -4.1,0M538.8,778.5m-2.05,0a2.05,2.05 0 1,0 4.1,0a2.05,2.05 0 1,0 -4.1,0M541.3,778.2m-2.05,0a2.05,2.05 0 1,0 4.1,0a2.05,2.05 0 1,0 -4.1,0M543.8,777.5m-2.05,0a2.05,2.05 0 1,0 4.1,0a2.05,2.05 0 1,0 -4.1,0M546.9,777.6m-2.05,0a2.05,2.05 0 1,0 4.1,0a2.05,2.05 0 1,0 -4.1,0M550.0,782.5m-2.05,0a2.05,2.05 0 1,0 4.1,0a2.05,2.05 0 1,0 -4.1,0M553.8,786.3m-2.05,0a2.05,2.05 0 1,0 4.1,0a2.05,2.05 0 1,0 -4.1,0M556.9,784.3m-2.05,0a2.05,2.05 0 1,0 4.1,0a2.05,2.05 0 1,0 -4.1,0M560.0,785.0m-2.05,0a2.05,2.05 0 1,0 4.1,0a2.05,2.05 0 1,0 -4.1,0M562.5,787.1m-2.05,0a2.05,2.05 0 1,0 4.1,0a2.05,2.05 0 1,0 -4.1,0M565.0,785.8m-2.05,0a2.05,2.05 0 1,0 4.1,0a2.05,2.05 0 1,0 -4.1,0M567.5,790.0m-2.05,0a2.05,2.05 0 1,0 4.1,0a2.05,2.05 0 1,0 -4.1,0M570.0,789.3m-2.05,0a2.05,2.05 0 1,0 4.1,0a2.05,2.05 0 1,0 -4.1,0M572.5,784.6m-2.05,0a2.05,2.05 0 1,0 4.1,0a2.05,2.05 0 1,0 -4.1,0M575.0,785.0m-2.05,0a2.05,2.05 0 1,0 4.1,0a2.05,2.05 0 1,0 -4.1,0M578.1,786.6m-2.05,0a2.05,2.05 0 1,0 4.1,0a2.05,2.05 0 1,0 -4.1,0M581.3,786.3m-2.05,0a2.05,2.05 0 1,0 4.1,0a2.05,2.05 0 1,0 -4.1,0M584.4,783.1m-2.05,0a2.05,2.05 0 1,0 4.1,0a2.05,2.05 0 1,0 -4.1,0M587.5,781.9m-2.05,0a2.05,2.05 0 1,0 4.1,0a2.05,2.05 0 1,0 -4.1,0M590.0,783.9m-2.05,0a2.05,2.05 0 1,0 4.1,0a2.05,2.05 0 1,0 -4.1,0M592.5,784.1m-2.05,0a2.05,2.05 0 1,0 4.1,0a2.05,2.05 0 1,0 -4.1,0M595.0,785.0m-2.05,0a2.05,2.05 0 1,0 4.1,0a2.05,2.05 0 1,0 -4.1,0M597.5,784.7m-2.05,0a2.05,2.05 0 1,0 4.1,0a2.05,2.05 0 1,0 -4.1,0M600.0,788.1m-2.05,0a2.05,2.05 0 1,0 4.1,0a2.05,2.05 0 1,0 -4.1,0M601.3,781.3m-2.05,0a2.05,2.05 0 1,0 4.1,0a2.05,2.05 0 1,0 -4.1,0M603.8,790.0m-2.05,0a2.05,2.05 0 1,0 4.1,0a2.05,2.05 0 1,0 -4.1,0M606.3,778.1m-2.05,0a2.05,2.05 0 1,0 4.1,0a2.05,2.05 0 1,0 -4.1,0M608.8,783.7m-2.05,0a2.05,2.05 0 1,0 4.1,0a2.05,2.05 0 1,0 -4.1,0M611.3,786.3m-2.05,0a2.05,2.05 0 1,0 4.1,0a2.05,2.05 0 1,0 -4.1,0M614.4,786.4m-2.05,0a2.05,2.05 0 1,0 4.1,0a2.05,2.05 0 1,0 -4.1,0M617.5,783.1m-2.05,0a2.05,2.05 0 1,0 4.1,0a2.05,2.05 0 1,0 -4.1,0M620.3,780.2m-2.05,0a2.05,2.05 0 1,0 4.1,0a2.05,2.05 0 1,0 -4.1,0M623.1,777.5m-2.05,0a2.05,2.05 0 1,0 4.1,0a2.05,2.05 0 1,0 -4.1,0M625.0,781.9m-2.05,0a2.05,2.05 0 1,0 4.1,0a2.05,2.05 0 1,0 -4.1,0M628.1,781.3m-2.05,0a2.05,2.05 0 1,0 4.1,0a2.05,2.05 0 1,0 -4.1,0M631.3,781.3m-2.05,0a2.05,2.05 0 1,0 4.1,0a2.05,2.05 0 1,0 -4.1,0M634.4,783.6m-2.05,0a2.05,2.05 0 1,0 4.1,0a2.05,2.05 0 1,0 -4.1,0M637.5,786.3m-2.05,0a2.05,2.05 0 1,0 4.1,0a2.05,2.05 0 1,0 -4.1,0M640.0,781.0m-2.05,0a2.05,2.05 0 1,0 4.1,0a2.05,2.05 0 1,0 -4.1,0M642.5,778.1m-2.05,0a2.05,2.05 0 1,0 4.1,0a2.05,2.05 0 1,0 -4.1,0M645.0,783.1m-2.05,0a2.05,2.05 0 1,0 4.1,0a2.05,2.05 0 1,0 -4.1,0M219.0,787.1m-2.05,0a2.05,2.05 0 1,0 4.1,0a2.05,2.05 0 1,0 -4.1,0M221.8,782.2m-2.05,0a2.05,2.05 0 1,0 4.1,0a2.05,2.05 0 1,0 -4.1,0M224.5,781.5m-2.05,0a2.05,2.05 0 1,0 4.1,0a2.05,2.05 0 1,0 -4.1,0M227.2,778.1m-2.05,0a2.05,2.05 0 1,0 4.1,0a2.05,2.05 0 1,0 -4.1,0M230.0,776.4m-2.05,0a2.05,2.05 0 1,0 4.1,0a2.05,2.05 0 1,0 -4.1,0M232.7,772.8m-2.05,0a2.05,2.05 0 1,0 4.1,0a2.05,2.05 0 1,0 -4.1,0M235.4,775.3m-2.05,0a2.05,2.05 0 1,0 4.1,0a2.05,2.05 0 1,0 -4.1,0M238.2,769.7m-2.05,0a2.05,2.05 0 1,0 4.1,0a2.05,2.05 0 1,0 -4.1,0M240.9,768.9m-2.05,0a2.05,2.05 0 1,0 4.1,0a2.05,2.05 0 1,0 -4.1,0M243.6,763.6m-2.05,0a2.05,2.05 0 1,0 4.1,0a2.05,2.05 0 1,0 -4.1,0M246.4,758.5m-2.05,0a2.05,2.05 0 1,0 4.1,0a2.05,2.05 0 1,0 -4.1,0M249.1,755.2m-2.05,0a2.05,2.05 0 1,0 4.1,0a2.05,2.05 0 1,0 -4.1,0M251.8,750.3m-2.05,0a2.05,2.05 0 1,0 4.1,0a2.05,2.05 0 1,0 -4.1,0M254.6,746.7m-2.05,0a2.05,2.05 0 1,0 4.1,0a2.05,2.05 0 1,0 -4.1,0M257.3,740.7m-2.05,0a2.05,2.05 0 1,0 4.1,0a2.05,2.05 0 1,0 -4.1,0M260.0,735.3m-2.05,0a2.05,2.05 0 1,0 4.1,0a2.05,2.05 0 1,0 -4.1,0M262.8,727.1m-2.05,0a2.05,2.05 0 1,0 4.1,0a2.05,2.05 0 1,0 -4.1,0M265.5,721.7m-2.05,0a2.05,2.05 0 1,0 4.1,0a2.05,2.05 0 1,0 -4.1,0M268.2,719.7m-2.05,0a2.05,2.05 0 1,0 4.1,0a2.05,2.05 0 1,0 -4.1,0M270.9,707.7m-2.05,0a2.05,2.05 0 1,0 4.1,0a2.05,2.05 0 1,0 -4.1,0M273.7,699.1m-2.05,0a2.05,2.05 0 1,0 4.1,0a2.05,2.05 0 1,0 -4.1,0M276.4,693.5m-2.05,0a2.05,2.05 0 1,0 4.1,0a2.05,2.05 0 1,0 -4.1,0M279.1,686.9m-2.05,0a2.05,2.05 0 1,0 4.1,0a2.05,2.05 0 1,0 -4.1,0M281.9,672.1m-2.05,0a2.05,2.05 0 1,0 4.1,0a2.05,2.05 0 1,0 -4.1,0M284.6,665.0m-2.05,0a2.05,2.05 0 1,0 4.1,0a2.05,2.05 0 1,0 -4.1,0M287.3,654.2m-2.05,0a2.05,2.05 0 1,0 4.1,0a2.05,2.05 0 1,0 -4.1,0M290.1,641.7m-2.05,0a2.05,2.05 0 1,0 4.1,0a2.05,2.05 0 1,0 -4.1,0M292.8,636.2m-2.05,0a2.05,2.05 0 1,0 4.1,0a2.05,2.05 0 1,0 -4.1,0M295.5,624.0m-2.05,0a2.05,2.05 0 1,0 4.1,0a2.05,2.05 0 1,0 -4.1,0M298.3,613.4m-2.05,0a2.05,2.05 0 1,0 4.1,0a2.05,2.05 0 1,0 -4.1,0M301.0,600.9m-2.05,0a2.05,2.05 0 1,0 4.1,0a2.05,2.05 0 1,0 -4.1,0M303.7,592.6m-2.05,0a2.05,2.05 0 1,0 4.1,0a2.05,2.05 0 1,0 -4.1,0M306.5,580.2m-2.05,0a2.05,2.05 0 1,0 4.1,0a2.05,2.05 0 1,0 -4.1,0M309.2,570.8m-2.05,0a2.05,2.05 0 1,0 4.1,0a2.05,2.05 0 1,0 -4.1,0M311.9,559.3m-2.05,0a2.05,2.05 0 1,0 4.1,0a2.05,2.05 0 1,0 -4.1,0M314.7,550.2m-2.05,0a2.05,2.05 0 1,0 4.1,0a2.05,2.05 0 1,0 -4.1,0M317.4,547.2m-2.05,0a2.05,2.05 0 1,0 4.1,0a2.05,2.05 0 1,0 -4.1,0M320.1,536.4m-2.05,0a2.05,2.05 0 1,0 4.1,0a2.05,2.05 0 1,0 -4.1,0M322.9,532.1m-2.05,0a2.05,2.05 0 1,0 4.1,0a2.05,2.05 0 1,0 -4.1,0M325.6,526.8m-2.05,0a2.05,2.05 0 1,0 4.1,0a2.05,2.05 0 1,0 -4.1,0M328.3,522.7m-2.05,0a2.05,2.05 0 1,0 4.1,0a2.05,2.05 0 1,0 -4.1,0M331.1,520.7m-2.05,0a2.05,2.05 0 1,0 4.1,0a2.05,2.05 0 1,0 -4.1,0M333.8,522.5m-2.05,0a2.05,2.05 0 1,0 4.1,0a2.05,2.05 0 1,0 -4.1,0M336.5,521.1m-2.05,0a2.05,2.05 0 1,0 4.1,0a2.05,2.05 0 1,0 -4.1,0M339.2,522.8m-2.05,0a2.05,2.05 0 1,0 4.1,0a2.05,2.05 0 1,0 -4.1,0M342.0,525.5m-2.05,0a2.05,2.05 0 1,0 4.1,0a2.05,2.05 0 1,0 -4.1,0M344.7,531.1m-2.05,0a2.05,2.05 0 1,0 4.1,0a2.05,2.05 0 1,0 -4.1,0M347.4,534.1m-2.05,0a2.05,2.05 0 1,0 4.1,0a2.05,2.05 0 1,0 -4.1,0M350.2,538.1m-2.05,0a2.05,2.05 0 1,0 4.1,0a2.05,2.05 0 1,0 -4.1,0M352.9,541.5m-2.05,0a2.05,2.05 0 1,0 4.1,0a2.05,2.05 0 1,0 -4.1,0M355.6,545.5m-2.05,0a2.05,2.05 0 1,0 4.1,0a2.05,2.05 0 1,0 -4.1,0M358.4,556.1m-2.05,0a2.05,2.05 0 1,0 4.1,0a2.05,2.05 0 1,0 -4.1,0M361.1,562.2m-2.05,0a2.05,2.05 0 1,0 4.1,0a2.05,2.05 0 1,0 -4.1,0M363.8,566.2m-2.05,0a2.05,2.05 0 1,0 4.1,0a2.05,2.05 0 1,0 -4.1,0M366.6,573.6m-2.05,0a2.05,2.05 0 1,0 4.1,0a2.05,2.05 0 1,0 -4.1,0M369.3,580.0m-2.05,0a2.05,2.05 0 1,0 4.1,0a2.05,2.05 0 1,0 -4.1,0M372.0,585.8m-2.05,0a2.05,2.05 0 1,0 4.1,0a2.05,2.05 0 1,0 -4.1,0M374.8,591.3m-2.05,0a2.05,2.05 0 1,0 4.1,0a2.05,2.05 0 1,0 -4.1,0M377.5,593.4m-2.05,0a2.05,2.05 0 1,0 4.1,0a2.05,2.05 0 1,0 -4.1,0M380.2,601.8m-2.05,0a2.05,2.05 0 1,0 4.1,0a2.05,2.05 0 1,0 -4.1,0M383.0,600.2m-2.05,0a2.05,2.05 0 1,0 4.1,0a2.05,2.05 0 1,0 -4.1,0M385.7,607.8m-2.05,0a2.05,2.05 0 1,0 4.1,0a2.05,2.05 0 1,0 -4.1,0M388.4,610.0m-2.05,0a2.05,2.05 0 1,0 4.1,0a2.05,2.05 0 1,0 -4.1,0M391.2,613.3m-2.05,0a2.05,2.05 0 1,0 4.1,0a2.05,2.05 0 1,0 -4.1,0M393.9,617.5m-2.05,0a2.05,2.05 0 1,0 4.1,0a2.05,2.05 0 1,0 -4.1,0M396.6,618.7m-2.05,0a2.05,2.05 0 1,0 4.1,0a2.05,2.05 0 1,0 -4.1,0M399.4,615.3m-2.05,0a2.05,2.05 0 1,0 4.1,0a2.05,2.05 0 1,0 -4.1,0M402.1,616.0m-2.05,0a2.05,2.05 0 1,0 4.1,0a2.05,2.05 0 1,0 -4.1,0M404.8,623.0m-2.05,0a2.05,2.05 0 1,0 4.1,0a2.05,2.05 0 1,0 -4.1,0M407.5,621.5m-2.05,0a2.05,2.05 0 1,0 4.1,0a2.05,2.05 0 1,0 -4.1,0M410.3,626.1m-2.05,0a2.05,2.05 0 1,0 4.1,0a2.05,2.05 0 1,0 -4.1,0M413.0,630.9m-2.05,0a2.05,2.05 0 1,0 4.1,0a2.05,2.05 0 1,0 -4.1,0M415.7,629.6m-2.05,0a2.05,2.05 0 1,0 4.1,0a2.05,2.05 0 1,0 -4.1,0M418.5,632.9m-2.05,0a2.05,2.05 0 1,0 4.1,0a2.05,2.05 0 1,0 -4.1,0M421.2,642.5m-2.05,0a2.05,2.05 0 1,0 4.1,0a2.05,2.05 0 1,0 -4.1,0M423.9,647.3m-2.05,0a2.05,2.05 0 1,0 4.1,0a2.05,2.05 0 1,0 -4.1,0M426.7,652.3m-2.05,0a2.05,2.05 0 1,0 4.1,0a2.05,2.05 0 1,0 -4.1,0M429.4,658.9m-2.05,0a2.05,2.05 0 1,0 4.1,0a2.05,2.05 0 1,0 -4.1,0M432.1,663.4m-2.05,0a2.05,2.05 0 1,0 4.1,0a2.05,2.05 0 1,0 -4.1,0M434.9,668.7m-2.05,0a2.05,2.05 0 1,0 4.1,0a2.05,2.05 0 1,0 -4.1,0M437.6,678.2m-2.05,0a2.05,2.05 0 1,0 4.1,0a2.05,2.05 0 1,0 -4.1,0M440.3,683.4m-2.05,0a2.05,2.05 0 1,0 4.1,0a2.05,2.05 0 1,0 -4.1,0M443.1,689.0m-2.05,0a2.05,2.05 0 1,0 4.1,0a2.05,2.05 0 1,0 -4.1,0M445.8,700.1m-2.05,0a2.05,2.05 0 1,0 4.1,0a2.05,2.05 0 1,0 -4.1,0M448.5,705.6m-2.05,0a2.05,2.05 0 1,0 4.1,0a2.05,2.05 0 1,0 -4.1,0M451.3,712.9m-2.05,0a2.05,2.05 0 1,0 4.1,0a2.05,2.05 0 1,0 -4.1,0M454.0,716.3m-2.05,0a2.05,2.05 0 1,0 4.1,0a2.05,2.05 0 1,0 -4.1,0M456.7,722.8m-2.05,0a2.05,2.05 0 1,0 4.1,0a2.05,2.05 0 1,0 -4.1,0M459.5,727.6m-2.05,0a2.05,2.05 0 1,0 4.1,0a2.05,2.05 0 1,0 -4.1,0M462.2,732.8m-2.05,0a2.05,2.05 0 1,0 4.1,0a2.05,2.05 0 1,0 -4.1,0M464.9,739.6m-2.05,0a2.05,2.05 0 1,0 4.1,0a2.05,2.05 0 1,0 -4.1,0M467.7,741.9m-2.05,0a2.05,2.05 0 1,0 4.1,0a2.05,2.05 0 1,0 -4.1,0M470.4,748.0m-2.05,0a2.05,2.05 0 1,0 4.1,0a2.05,2.05 0 1,0 -4.1,0M473.1,751.4m-2.05,0a2.05,2.05 0 1,0 4.1,0a2.05,2.05 0 1,0 -4.1,0M475.8,757.8m-2.05,0a2.05,2.05 0 1,0 4.1,0a2.05,2.05 0 1,0 -4.1,0M478.6,753.6m-2.05,0a2.05,2.05 0 1,0 4.1,0a2.05,2.05 0 1,0 -4.1,0M481.3,760.5m-2.05,0a2.05,2.05 0 1,0 4.1,0a2.05,2.05 0 1,0 -4.1,0M484.0,760.6m-2.05,0a2.05,2.05 0 1,0 4.1,0a2.05,2.05 0 1,0 -4.1,0M486.8,762.5m-2.05,0a2.05,2.05 0 1,0 4.1,0a2.05,2.05 0 1,0 -4.1,0M489.5,761.2m-2.05,0a2.05,2.05 0 1,0 4.1,0a2.05,2.05 0 1,0 -4.1,0M492.2,764.5m-2.05,0a2.05,2.05 0 1,0 4.1,0a2.05,2.05 0 1,0 -4.1,0M495.0,768.0m-2.05,0a2.05,2.05 0 1,0 4.1,0a2.05,2.05 0 1,0 -4.1,0M497.7,767.4m-2.05,0a2.05,2.05 0 1,0 4.1,0a2.05,2.05 0 1,0 -4.1,0M500.4,768.6m-2.05,0a2.05,2.05 0 1,0 4.1,0a2.05,2.05 0 1,0 -4.1,0M503.2,768.6m-2.05,0a2.05,2.05 0 1,0 4.1,0a2.05,2.05 0 1,0 -4.1,0M505.9,772.1m-2.05,0a2.05,2.05 0 1,0 4.1,0a2.05,2.05 0 1,0 -4.1,0M508.6,770.4m-2.05,0a2.05,2.05 0 1,0 4.1,0a2.05,2.05 0 1,0 -4.1,0" fill="#111"/>
<path d="M723.4,783.9m-2.05,0a2.05,2.05 0 1,0 4.1,0a2.05,2.05 0 1,0 -4.1,0M726.3,787.2m-2.05,0a2.05,2.05 0 1,0 4.1,0a2.05,2.05 0 1,0 -4.1,0M730.0,785.8m-2.05,0a2.05,2.05 0 1,0 4.1,0a2.05,2.05 0 1,0 -4.1,0M733.8,794.7m-2.05,0a2.05,2.05 0 1,0 4.1,0a2.05,2.05 0 1,0 -4.1,0M737.5,795.6m-2.05,0a2.05,2.05 0 1,0 4.1,0a2.05,2.05 0 1,0 -4.1,0M739.8,790.0m-2.05,0a2.05,2.05 0 1,0 4.1,0a2.05,2.05 0 1,0 -4.1,0M742.2,783.4m-2.05,0a2.05,2.05 0 1,0 4.1,0a2.05,2.05 0 1,0 -4.1,0M745.0,788.1m-2.05,0a2.05,2.05 0 1,0 4.1,0a2.05,2.05 0 1,0 -4.1,0M747.8,792.3m-2.05,0a2.05,2.05 0 1,0 4.1,0a2.05,2.05 0 1,0 -4.1,0M750.6,781.6m-2.05,0a2.05,2.05 0 1,0 4.1,0a2.05,2.05 0 1,0 -4.1,0M753.0,778.3m-2.05,0a2.05,2.05 0 1,0 4.1,0a2.05,2.05 0 1,0 -4.1,0M756.3,793.3m-2.05,0a2.05,2.05 0 1,0 4.1,0a2.05,2.05 0 1,0 -4.1,0M758.6,798.0m-2.05,0a2.05,2.05 0 1,0 4.1,0a2.05,2.05 0 1,0 -4.1,0M761.4,789.1m-2.05,0a2.05,2.05 0 1,0 4.1,0a2.05,2.05 0 1,0 -4.1,0M763.8,782.5m-2.05,0a2.05,2.05 0 1,0 4.1,0a2.05,2.05 0 1,0 -4.1,0M767.5,785.3m-2.05,0a2.05,2.05 0 1,0 4.1,0a2.05,2.05 0 1,0 -4.1,0M769.8,790.0m-2.05,0a2.05,2.05 0 1,0 4.1,0a2.05,2.05 0 1,0 -4.1,0M772.2,795.2m-2.05,0a2.05,2.05 0 1,0 4.1,0a2.05,2.05 0 1,0 -4.1,0M776.0,781.6m-2.05,0a2.05,2.05 0 1,0 4.1,0a2.05,2.05 0 1,0 -4.1,0M780.6,787.7m-2.05,0a2.05,2.05 0 1,0 4.1,0a2.05,2.05 0 1,0 -4.1,0M784.4,789.1m-2.05,0a2.05,2.05 0 1,0 4.1,0a2.05,2.05 0 1,0 -4.1,0M789.0,785.3m-2.05,0a2.05,2.05 0 1,0 4.1,0a2.05,2.05 0 1,0 -4.1,0M793.8,779.7m-2.05,0a2.05,2.05 0 1,0 4.1,0a2.05,2.05 0 1,0 -4.1,0M797.5,782.5m-2.05,0a2.05,2.05 0 1,0 4.1,0a2.05,2.05 0 1,0 -4.1,0M802.6,787.2m-2.05,0a2.05,2.05 0 1,0 4.1,0a2.05,2.05 0 1,0 -4.1,0M807.8,771.7m-2.05,0a2.05,2.05 0 1,0 4.1,0a2.05,2.05 0 1,0 -4.1,0M1141.6,768.2m-2.05,0a2.05,2.05 0 1,0 4.1,0a2.05,2.05 0 1,0 -4.1,0M1144.2,759.9m-2.05,0a2.05,2.05 0 1,0 4.1,0a2.05,2.05 0 1,0 -4.1,0M1146.7,756.0m-2.05,0a2.05,2.05 0 1,0 4.1,0a2.05,2.05 0 1,0 -4.1,0M1149.3,751.2m-2.05,0a2.05,2.05 0 1,0 4.1,0a2.05,2.05 0 1,0 -4.1,0M1152.0,755.6m-2.05,0a2.05,2.05 0 1,0 4.1,0a2.05,2.05 0 1,0 -4.1,0M1155.3,747.4m-2.05,0a2.05,2.05 0 1,0 4.1,0a2.05,2.05 0 1,0 -4.1,0M1157.5,746.9m-2.05,0a2.05,2.05 0 1,0 4.1,0a2.05,2.05 0 1,0 -4.1,0M1159.7,751.2m-2.05,0a2.05,2.05 0 1,0 4.1,0a2.05,2.05 0 1,0 -4.1,0M1163.5,748.5m-2.05,0a2.05,2.05 0 1,0 4.1,0a2.05,2.05 0 1,0 -4.1,0M1166.2,762.2m-2.05,0a2.05,2.05 0 1,0 4.1,0a2.05,2.05 0 1,0 -4.1,0M1169.0,767.7m-2.05,0a2.05,2.05 0 1,0 4.1,0a2.05,2.05 0 1,0 -4.1,0M1171.7,760.0m-2.05,0a2.05,2.05 0 1,0 4.1,0a2.05,2.05 0 1,0 -4.1,0M1174.2,753.1m-2.05,0a2.05,2.05 0 1,0 4.1,0a2.05,2.05 0 1,0 -4.1,0M1176.6,754.0m-2.05,0a2.05,2.05 0 1,0 4.1,0a2.05,2.05 0 1,0 -4.1,0M1180.5,758.9m-2.05,0a2.05,2.05 0 1,0 4.1,0a2.05,2.05 0 1,0 -4.1,0M1182.7,757.2m-2.05,0a2.05,2.05 0 1,0 4.1,0a2.05,2.05 0 1,0 -4.1,0M1184.8,756.7m-2.05,0a2.05,2.05 0 1,0 4.1,0a2.05,2.05 0 1,0 -4.1,0M1187.6,751.2m-2.05,0a2.05,2.05 0 1,0 4.1,0a2.05,2.05 0 1,0 -4.1,0M1190.3,760.0m-2.05,0a2.05,2.05 0 1,0 4.1,0a2.05,2.05 0 1,0 -4.1,0M1193.6,765.5m-2.05,0a2.05,2.05 0 1,0 4.1,0a2.05,2.05 0 1,0 -4.1,0M1195.8,751.8m-2.05,0a2.05,2.05 0 1,0 4.1,0a2.05,2.05 0 1,0 -4.1,0M1199.1,756.2m-2.05,0a2.05,2.05 0 1,0 4.1,0a2.05,2.05 0 1,0 -4.1,0M1202.3,757.3m-2.05,0a2.05,2.05 0 1,0 4.1,0a2.05,2.05 0 1,0 -4.1,0M1205.6,755.1m-2.05,0a2.05,2.05 0 1,0 4.1,0a2.05,2.05 0 1,0 -4.1,0M1208.9,756.0m-2.05,0a2.05,2.05 0 1,0 4.1,0a2.05,2.05 0 1,0 -4.1,0M1212.2,756.7m-2.05,0a2.05,2.05 0 1,0 4.1,0a2.05,2.05 0 1,0 -4.1,0M1215.0,757.2m-2.05,0a2.05,2.05 0 1,0 4.1,0a2.05,2.05 0 1,0 -4.1,0M1217.7,760.5m-2.05,0a2.05,2.05 0 1,0 4.1,0a2.05,2.05 0 1,0 -4.1,0M1220.4,751.8m-2.05,0a2.05,2.05 0 1,0 4.1,0a2.05,2.05 0 1,0 -4.1,0M1223.1,755.1m-2.05,0a2.05,2.05 0 1,0 4.1,0a2.05,2.05 0 1,0 -4.1,0M1226.4,761.6m-2.05,0a2.05,2.05 0 1,0 4.1,0a2.05,2.05 0 1,0 -4.1,0M1228.6,751.8m-2.05,0a2.05,2.05 0 1,0 4.1,0a2.05,2.05 0 1,0 -4.1,0M1230.8,754.2m-2.05,0a2.05,2.05 0 1,0 4.1,0a2.05,2.05 0 1,0 -4.1,0M1233.0,758.9m-2.05,0a2.05,2.05 0 1,0 4.1,0a2.05,2.05 0 1,0 -4.1,0M1236.8,754.0m-2.05,0a2.05,2.05 0 1,0 4.1,0a2.05,2.05 0 1,0 -4.1,0M1239.5,748.0m-2.05,0a2.05,2.05 0 1,0 4.1,0a2.05,2.05 0 1,0 -4.1,0M1242.8,740.9m-2.05,0a2.05,2.05 0 1,0 4.1,0a2.05,2.05 0 1,0 -4.1,0M1246.1,745.2m-2.05,0a2.05,2.05 0 1,0 4.1,0a2.05,2.05 0 1,0 -4.1,0M1249.4,745.2m-2.05,0a2.05,2.05 0 1,0 4.1,0a2.05,2.05 0 1,0 -4.1,0M1252.7,749.6m-2.05,0a2.05,2.05 0 1,0 4.1,0a2.05,2.05 0 1,0 -4.1,0M1256.0,744.1m-2.05,0a2.05,2.05 0 1,0 4.1,0a2.05,2.05 0 1,0 -4.1,0M1258.7,754.5m-2.05,0a2.05,2.05 0 1,0 4.1,0a2.05,2.05 0 1,0 -4.1,0M1261.4,750.2m-2.05,0a2.05,2.05 0 1,0 4.1,0a2.05,2.05 0 1,0 -4.1,0M1263.6,745.2m-2.05,0a2.05,2.05 0 1,0 4.1,0a2.05,2.05 0 1,0 -4.1,0M809.9,782.2m-2.05,0a2.05,2.05 0 1,0 4.1,0a2.05,2.05 0 1,0 -4.1,0M812.6,777.1m-2.05,0a2.05,2.05 0 1,0 4.1,0a2.05,2.05 0 1,0 -4.1,0M815.4,775.7m-2.05,0a2.05,2.05 0 1,0 4.1,0a2.05,2.05 0 1,0 -4.1,0M818.1,774.1m-2.05,0a2.05,2.05 0 1,0 4.1,0a2.05,2.05 0 1,0 -4.1,0M820.8,773.3m-2.05,0a2.05,2.05 0 1,0 4.1,0a2.05,2.05 0 1,0 -4.1,0M823.5,775.2m-2.05,0a2.05,2.05 0 1,0 4.1,0a2.05,2.05 0 1,0 -4.1,0M826.3,772.8m-2.05,0a2.05,2.05 0 1,0 4.1,0a2.05,2.05 0 1,0 -4.1,0M829.0,769.8m-2.05,0a2.05,2.05 0 1,0 4.1,0a2.05,2.05 0 1,0 -4.1,0M831.7,762.8m-2.05,0a2.05,2.05 0 1,0 4.1,0a2.05,2.05 0 1,0 -4.1,0M834.5,767.6m-2.05,0a2.05,2.05 0 1,0 4.1,0a2.05,2.05 0 1,0 -4.1,0M837.2,760.6m-2.05,0a2.05,2.05 0 1,0 4.1,0a2.05,2.05 0 1,0 -4.1,0M839.9,765.9m-2.05,0a2.05,2.05 0 1,0 4.1,0a2.05,2.05 0 1,0 -4.1,0M842.7,753.6m-2.05,0a2.05,2.05 0 1,0 4.1,0a2.05,2.05 0 1,0 -4.1,0M845.4,755.8m-2.05,0a2.05,2.05 0 1,0 4.1,0a2.05,2.05 0 1,0 -4.1,0M848.1,753.5m-2.05,0a2.05,2.05 0 1,0 4.1,0a2.05,2.05 0 1,0 -4.1,0M850.9,745.0m-2.05,0a2.05,2.05 0 1,0 4.1,0a2.05,2.05 0 1,0 -4.1,0M853.6,754.5m-2.05,0a2.05,2.05 0 1,0 4.1,0a2.05,2.05 0 1,0 -4.1,0M856.3,749.8m-2.05,0a2.05,2.05 0 1,0 4.1,0a2.05,2.05 0 1,0 -4.1,0M859.0,737.8m-2.05,0a2.05,2.05 0 1,0 4.1,0a2.05,2.05 0 1,0 -4.1,0M861.8,738.8m-2.05,0a2.05,2.05 0 1,0 4.1,0a2.05,2.05 0 1,0 -4.1,0M864.5,732.6m-2.05,0a2.05,2.05 0 1,0 4.1,0a2.05,2.05 0 1,0 -4.1,0M867.2,715.1m-2.05,0a2.05,2.05 0 1,0 4.1,0a2.05,2.05 0 1,0 -4.1,0M870.0,721.9m-2.05,0a2.05,2.05 0 1,0 4.1,0a2.05,2.05 0 1,0 -4.1,0M872.7,714.9m-2.05,0a2.05,2.05 0 1,0 4.1,0a2.05,2.05 0 1,0 -4.1,0M875.4,709.4m-2.05,0a2.05,2.05 0 1,0 4.1,0a2.05,2.05 0 1,0 -4.1,0M878.2,698.0m-2.05,0a2.05,2.05 0 1,0 4.1,0a2.05,2.05 0 1,0 -4.1,0M880.9,694.5m-2.05,0a2.05,2.05 0 1,0 4.1,0a2.05,2.05 0 1,0 -4.1,0M883.6,687.6m-2.05,0a2.05,2.05 0 1,0 4.1,0a2.05,2.05 0 1,0 -4.1,0M886.4,685.5m-2.05,0a2.05,2.05 0 1,0 4.1,0a2.05,2.05 0 1,0 -4.1,0M889.1,673.8m-2.05,0a2.05,2.05 0 1,0 4.1,0a2.05,2.05 0 1,0 -4.1,0M891.8,663.8m-2.05,0a2.05,2.05 0 1,0 4.1,0a2.05,2.05 0 1,0 -4.1,0M894.5,661.3m-2.05,0a2.05,2.05 0 1,0 4.1,0a2.05,2.05 0 1,0 -4.1,0M897.3,643.4m-2.05,0a2.05,2.05 0 1,0 4.1,0a2.05,2.05 0 1,0 -4.1,0M900.0,634.7m-2.05,0a2.05,2.05 0 1,0 4.1,0a2.05,2.05 0 1,0 -4.1,0M902.7,619.1m-2.05,0a2.05,2.05 0 1,0 4.1,0a2.05,2.05 0 1,0 -4.1,0M905.5,623.7m-2.05,0a2.05,2.05 0 1,0 4.1,0a2.05,2.05 0 1,0 -4.1,0M908.2,611.6m-2.05,0a2.05,2.05 0 1,0 4.1,0a2.05,2.05 0 1,0 -4.1,0M910.9,602.1m-2.05,0a2.05,2.05 0 1,0 4.1,0a2.05,2.05 0 1,0 -4.1,0M913.7,592.2m-2.05,0a2.05,2.05 0 1,0 4.1,0a2.05,2.05 0 1,0 -4.1,0M916.4,581.5m-2.05,0a2.05,2.05 0 1,0 4.1,0a2.05,2.05 0 1,0 -4.1,0M919.1,574.4m-2.05,0a2.05,2.05 0 1,0 4.1,0a2.05,2.05 0 1,0 -4.1,0M921.9,565.9m-2.05,0a2.05,2.05 0 1,0 4.1,0a2.05,2.05 0 1,0 -4.1,0M924.6,560.5m-2.05,0a2.05,2.05 0 1,0 4.1,0a2.05,2.05 0 1,0 -4.1,0M927.3,557.3m-2.05,0a2.05,2.05 0 1,0 4.1,0a2.05,2.05 0 1,0 -4.1,0M930.1,560.4m-2.05,0a2.05,2.05 0 1,0 4.1,0a2.05,2.05 0 1,0 -4.1,0M932.8,554.1m-2.05,0a2.05,2.05 0 1,0 4.1,0a2.05,2.05 0 1,0 -4.1,0M935.5,549.8m-2.05,0a2.05,2.05 0 1,0 4.1,0a2.05,2.05 0 1,0 -4.1,0M938.2,546.4m-2.05,0a2.05,2.05 0 1,0 4.1,0a2.05,2.05 0 1,0 -4.1,0M941.0,545.5m-2.05,0a2.05,2.05 0 1,0 4.1,0a2.05,2.05 0 1,0 -4.1,0M943.7,554.6m-2.05,0a2.05,2.05 0 1,0 4.1,0a2.05,2.05 0 1,0 -4.1,0M946.4,550.2m-2.05,0a2.05,2.05 0 1,0 4.1,0a2.05,2.05 0 1,0 -4.1,0M949.2,548.8m-2.05,0a2.05,2.05 0 1,0 4.1,0a2.05,2.05 0 1,0 -4.1,0M951.9,547.9m-2.05,0a2.05,2.05 0 1,0 4.1,0a2.05,2.05 0 1,0 -4.1,0M954.6,545.9m-2.05,0a2.05,2.05 0 1,0 4.1,0a2.05,2.05 0 1,0 -4.1,0M957.4,551.6m-2.05,0a2.05,2.05 0 1,0 4.1,0a2.05,2.05 0 1,0 -4.1,0M960.1,557.2m-2.05,0a2.05,2.05 0 1,0 4.1,0a2.05,2.05 0 1,0 -4.1,0M962.8,553.7m-2.05,0a2.05,2.05 0 1,0 4.1,0a2.05,2.05 0 1,0 -4.1,0M965.6,556.3m-2.05,0a2.05,2.05 0 1,0 4.1,0a2.05,2.05 0 1,0 -4.1,0M968.3,558.4m-2.05,0a2.05,2.05 0 1,0 4.1,0a2.05,2.05 0 1,0 -4.1,0M971.0,562.0m-2.05,0a2.05,2.05 0 1,0 4.1,0a2.05,2.05 0 1,0 -4.1,0M973.7,557.2m-2.05,0a2.05,2.05 0 1,0 4.1,0a2.05,2.05 0 1,0 -4.1,0M976.5,565.3m-2.05,0a2.05,2.05 0 1,0 4.1,0a2.05,2.05 0 1,0 -4.1,0M979.2,565.3m-2.05,0a2.05,2.05 0 1,0 4.1,0a2.05,2.05 0 1,0 -4.1,0M981.9,575.2m-2.05,0a2.05,2.05 0 1,0 4.1,0a2.05,2.05 0 1,0 -4.1,0M984.7,571.0m-2.05,0a2.05,2.05 0 1,0 4.1,0a2.05,2.05 0 1,0 -4.1,0M987.4,579.6m-2.05,0a2.05,2.05 0 1,0 4.1,0a2.05,2.05 0 1,0 -4.1,0M990.1,586.6m-2.05,0a2.05,2.05 0 1,0 4.1,0a2.05,2.05 0 1,0 -4.1,0M992.9,582.1m-2.05,0a2.05,2.05 0 1,0 4.1,0a2.05,2.05 0 1,0 -4.1,0M995.6,584.3m-2.05,0a2.05,2.05 0 1,0 4.1,0a2.05,2.05 0 1,0 -4.1,0M998.3,591.1m-2.05,0a2.05,2.05 0 1,0 4.1,0a2.05,2.05 0 1,0 -4.1,0M1001.1,594.0m-2.05,0a2.05,2.05 0 1,0 4.1,0a2.05,2.05 0 1,0 -4.1,0M1003.8,593.7m-2.05,0a2.05,2.05 0 1,0 4.1,0a2.05,2.05 0 1,0 -4.1,0M1006.5,603.9m-2.05,0a2.05,2.05 0 1,0 4.1,0a2.05,2.05 0 1,0 -4.1,0M1009.3,614.6m-2.05,0a2.05,2.05 0 1,0 4.1,0a2.05,2.05 0 1,0 -4.1,0M1012.0,609.4m-2.05,0a2.05,2.05 0 1,0 4.1,0a2.05,2.05 0 1,0 -4.1,0M1014.7,614.0m-2.05,0a2.05,2.05 0 1,0 4.1,0a2.05,2.05 0 1,0 -4.1,0M1017.4,615.0m-2.05,0a2.05,2.05 0 1,0 4.1,0a2.05,2.05 0 1,0 -4.1,0M1020.2,625.3m-2.05,0a2.05,2.05 0 1,0 4.1,0a2.05,2.05 0 1,0 -4.1,0M1022.9,623.4m-2.05,0a2.05,2.05 0 1,0 4.1,0a2.05,2.05 0 1,0 -4.1,0M1025.6,628.7m-2.05,0a2.05,2.05 0 1,0 4.1,0a2.05,2.05 0 1,0 -4.1,0M1028.4,643.5m-2.05,0a2.05,2.05 0 1,0 4.1,0a2.05,2.05 0 1,0 -4.1,0M1031.1,639.2m-2.05,0a2.05,2.05 0 1,0 4.1,0a2.05,2.05 0 1,0 -4.1,0M1033.8,652.4m-2.05,0a2.05,2.05 0 1,0 4.1,0a2.05,2.05 0 1,0 -4.1,0M1036.6,659.2m-2.05,0a2.05,2.05 0 1,0 4.1,0a2.05,2.05 0 1,0 -4.1,0M1039.3,658.8m-2.05,0a2.05,2.05 0 1,0 4.1,0a2.05,2.05 0 1,0 -4.1,0M1042.0,665.0m-2.05,0a2.05,2.05 0 1,0 4.1,0a2.05,2.05 0 1,0 -4.1,0M1044.8,675.7m-2.05,0a2.05,2.05 0 1,0 4.1,0a2.05,2.05 0 1,0 -4.1,0M1047.5,671.6m-2.05,0a2.05,2.05 0 1,0 4.1,0a2.05,2.05 0 1,0 -4.1,0M1050.2,674.7m-2.05,0a2.05,2.05 0 1,0 4.1,0a2.05,2.05 0 1,0 -4.1,0M1052.9,676.2m-2.05,0a2.05,2.05 0 1,0 4.1,0a2.05,2.05 0 1,0 -4.1,0M1055.7,686.8m-2.05,0a2.05,2.05 0 1,0 4.1,0a2.05,2.05 0 1,0 -4.1,0M1058.4,697.3m-2.05,0a2.05,2.05 0 1,0 4.1,0a2.05,2.05 0 1,0 -4.1,0M1061.1,699.6m-2.05,0a2.05,2.05 0 1,0 4.1,0a2.05,2.05 0 1,0 -4.1,0M1063.9,695.9m-2.05,0a2.05,2.05 0 1,0 4.1,0a2.05,2.05 0 1,0 -4.1,0M1066.6,700.4m-2.05,0a2.05,2.05 0 1,0 4.1,0a2.05,2.05 0 1,0 -4.1,0M1069.3,705.9m-2.05,0a2.05,2.05 0 1,0 4.1,0a2.05,2.05 0 1,0 -4.1,0M1072.1,713.2m-2.05,0a2.05,2.05 0 1,0 4.1,0a2.05,2.05 0 1,0 -4.1,0M1074.8,714.8m-2.05,0a2.05,2.05 0 1,0 4.1,0a2.05,2.05 0 1,0 -4.1,0M1077.5,720.1m-2.05,0a2.05,2.05 0 1,0 4.1,0a2.05,2.05 0 1,0 -4.1,0M1080.3,723.7m-2.05,0a2.05,2.05 0 1,0 4.1,0a2.05,2.05 0 1,0 -4.1,0M1083.0,724.4m-2.05,0a2.05,2.05 0 1,0 4.1,0a2.05,2.05 0 1,0 -4.1,0M1085.7,728.5m-2.05,0a2.05,2.05 0 1,0 4.1,0a2.05,2.05 0 1,0 -4.1,0M1088.5,732.3m-2.05,0a2.05,2.05 0 1,0 4.1,0a2.05,2.05 0 1,0 -4.1,0M1091.2,733.7m-2.05,0a2.05,2.05 0 1,0 4.1,0a2.05,2.05 0 1,0 -4.1,0M1093.9,738.6m-2.05,0a2.05,2.05 0 1,0 4.1,0a2.05,2.05 0 1,0 -4.1,0M1096.6,746.6m-2.05,0a2.05,2.05 0 1,0 4.1,0a2.05,2.05 0 1,0 -4.1,0M1099.4,743.3m-2.05,0a2.05,2.05 0 1,0 4.1,0a2.05,2.05 0 1,0 -4.1,0M1102.1,743.0m-2.05,0a2.05,2.05 0 1,0 4.1,0a2.05,2.05 0 1,0 -4.1,0M1104.8,737.4m-2.05,0a2.05,2.05 0 1,0 4.1,0a2.05,2.05 0 1,0 -4.1,0M1107.6,747.7m-2.05,0a2.05,2.05 0 1,0 4.1,0a2.05,2.05 0 1,0 -4.1,0M1110.3,739.3m-2.05,0a2.05,2.05 0 1,0 4.1,0a2.05,2.05 0 1,0 -4.1,0M1113.0,742.8m-2.05,0a2.05,2.05 0 1,0 4.1,0a2.05,2.05 0 1,0 -4.1,0M1115.8,753.4m-2.05,0a2.05,2.05 0 1,0 4.1,0a2.05,2.05 0 1,0 -4.1,0M1118.5,753.8m-2.05,0a2.05,2.05 0 1,0 4.1,0a2.05,2.05 0 1,0 -4.1,0M1121.2,751.0m-2.05,0a2.05,2.05 0 1,0 4.1,0a2.05,2.05 0 1,0 -4.1,0M1124.0,745.2m-2.05,0a2.05,2.05 0 1,0 4.1,0a2.05,2.05 0 1,0 -4.1,0M1126.7,751.4m-2.05,0a2.05,2.05 0 1,0 4.1,0a2.05,2.05 0 1,0 -4.1,0M1129.4,750.6m-2.05,0a2.05,2.05 0 1,0 4.1,0a2.05,2.05 0 1,0 -4.1,0M1132.1,756.6m-2.05,0a2.05,2.05 0 1,0 4.1,0a2.05,2.05 0 1,0 -4.1,0M1134.9,763.7m-2.05,0a2.05,2.05 0 1,0 4.1,0a2.05,2.05 0 1,0 -4.1,0M1137.6,755.4m-2.05,0a2.05,2.05 0 1,0 4.1,0a2.05,2.05 0 1,0 -4.1,0" fill="#111"/>
</svg></body></html>
